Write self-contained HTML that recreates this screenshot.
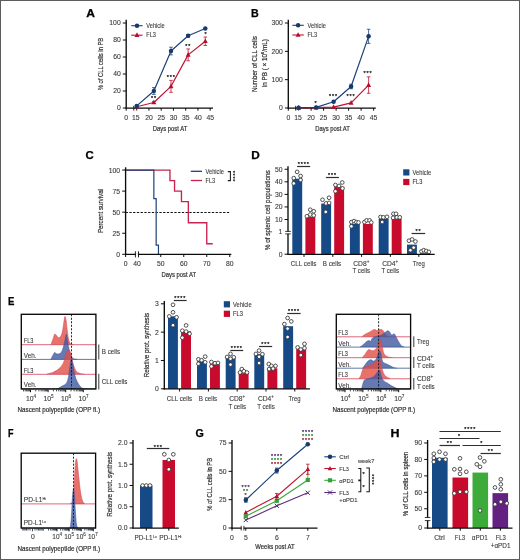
<!DOCTYPE html>
<html lang="en">
<head>
<meta charset="utf-8">
<title>Figure</title>
<style>
html,body{margin:0;padding:0;background:#fff;}
body{width:520px;height:560px;overflow:hidden;position:relative;}
svg{display:block;position:absolute;left:0;top:0;}
svg text{font-family:"Liberation Sans",sans-serif;fill:#383838;stroke:#383838;stroke-width:.1px;}
svg text.b{fill:#2e2e2e;stroke:#2e2e2e;stroke-width:.2px;}
.frame{position:absolute;left:0;top:0;width:518px;height:558px;border:1px solid #5c5c5c;pointer-events:none;}
</style>
</head>
<body>
<svg width="520" height="560" viewBox="0 0 520 560">
<rect width="520" height="560" fill="#fff"/>
<g>
<text x="86.3" y="16.5" font-size="10.3" font-weight="bold" style="fill:#000;stroke:#000;stroke-width:.25px" textLength="8.7" lengthAdjust="spacingAndGlyphs">A</text>
<text transform="translate(102.8 64) rotate(-90)" font-size="7.6" text-anchor="middle" textLength="52.5" lengthAdjust="spacingAndGlyphs" class="b">% of CLL cells in PB</text>
<line x1="126.2" y1="19.8" x2="126.2" y2="108.6" stroke="#0c0c0c" stroke-width="1.35"/>
<line x1="125.6" y1="108.15" x2="213" y2="108.15" stroke="#0c0c0c" stroke-width="1.25"/>
<line x1="122.8" y1="108" x2="126.2" y2="108" stroke="#0c0c0c" stroke-width="1"/>
<text x="120.7" y="110.45" font-size="6.8" text-anchor="end">0</text>
<line x1="122.8" y1="91" x2="126.2" y2="91" stroke="#0c0c0c" stroke-width="1"/>
<text x="120.7" y="93.45" font-size="6.8" text-anchor="end">20</text>
<line x1="122.8" y1="74" x2="126.2" y2="74" stroke="#0c0c0c" stroke-width="1"/>
<text x="120.7" y="76.45" font-size="6.8" text-anchor="end">40</text>
<line x1="122.8" y1="57" x2="126.2" y2="57" stroke="#0c0c0c" stroke-width="1"/>
<text x="120.7" y="59.45" font-size="6.8" text-anchor="end">60</text>
<line x1="122.8" y1="40" x2="126.2" y2="40" stroke="#0c0c0c" stroke-width="1"/>
<text x="120.7" y="42.45" font-size="6.8" text-anchor="end">80</text>
<line x1="122.8" y1="23" x2="126.2" y2="23" stroke="#0c0c0c" stroke-width="1"/>
<text x="120.7" y="25.45" font-size="6.8" text-anchor="end">100</text>
<line x1="126.2" y1="108" x2="126.2" y2="110.7" stroke="#0c0c0c" stroke-width="1"/>
<text x="126.2" y="119.5" font-size="6.8" text-anchor="middle">0</text>
<line x1="148.95" y1="108" x2="148.95" y2="110.7" stroke="#0c0c0c" stroke-width="1"/>
<text x="148.95" y="119.5" font-size="6.8" text-anchor="middle">20</text>
<line x1="161.2" y1="108" x2="161.2" y2="110.7" stroke="#0c0c0c" stroke-width="1"/>
<text x="161.2" y="119.5" font-size="6.8" text-anchor="middle">25</text>
<line x1="173.45" y1="108" x2="173.45" y2="110.7" stroke="#0c0c0c" stroke-width="1"/>
<text x="173.45" y="119.5" font-size="6.8" text-anchor="middle">30</text>
<line x1="185.7" y1="108" x2="185.7" y2="110.7" stroke="#0c0c0c" stroke-width="1"/>
<text x="185.7" y="119.5" font-size="6.8" text-anchor="middle">35</text>
<line x1="197.95" y1="108" x2="197.95" y2="110.7" stroke="#0c0c0c" stroke-width="1"/>
<text x="197.95" y="119.5" font-size="6.8" text-anchor="middle">40</text>
<line x1="210.2" y1="108" x2="210.2" y2="110.7" stroke="#0c0c0c" stroke-width="1"/>
<text x="210.2" y="119.5" font-size="6.8" text-anchor="middle">45</text>
<line x1="133.8" y1="105.8" x2="133.8" y2="110.6" stroke="#0c0c0c" stroke-width="0.9"/>
<line x1="136.7" y1="105.8" x2="136.7" y2="110.6" stroke="#0c0c0c" stroke-width="0.9"/>
<text x="135.8" y="119.5" font-size="6.8" text-anchor="middle">15</text>
<text x="170" y="131.2" font-size="7.5" text-anchor="middle" textLength="34.5" lengthAdjust="spacingAndGlyphs" class="b">Days post AT</text>
<polyline points="136.7,106.72 153.85,102.47 171,86.33 188.15,54.88 205.3,41.28" fill="none" stroke="#c01231" stroke-width="1.2" stroke-linejoin="round"/>
<polygon points="136.7,103.89 134.24,108.57 139.16,108.57" fill="#b30f2d"/>
<line x1="153.85" y1="101.45" x2="153.85" y2="103.5" stroke="#c01231" stroke-width="0.8"/>
<line x1="152.05" y1="101.45" x2="155.65" y2="101.45" stroke="#c01231" stroke-width="0.8"/>
<line x1="152.05" y1="103.5" x2="155.65" y2="103.5" stroke="#c01231" stroke-width="0.8"/>
<polygon points="153.85,99.64 151.39,104.32 156.31,104.32" fill="#b30f2d"/>
<line x1="171" y1="80.38" x2="171" y2="92.28" stroke="#c01231" stroke-width="0.8"/>
<line x1="169.2" y1="80.38" x2="172.8" y2="80.38" stroke="#c01231" stroke-width="0.8"/>
<line x1="169.2" y1="92.28" x2="172.8" y2="92.28" stroke="#c01231" stroke-width="0.8"/>
<polygon points="171,83.49 168.54,88.17 173.46,88.17" fill="#b30f2d"/>
<line x1="188.15" y1="48.93" x2="188.15" y2="60.83" stroke="#c01231" stroke-width="0.8"/>
<line x1="186.35" y1="48.93" x2="189.95" y2="48.93" stroke="#c01231" stroke-width="0.8"/>
<line x1="186.35" y1="60.83" x2="189.95" y2="60.83" stroke="#c01231" stroke-width="0.8"/>
<polygon points="188.15,52.04 185.69,56.72 190.61,56.72" fill="#b30f2d"/>
<line x1="205.3" y1="37.03" x2="205.3" y2="45.52" stroke="#c01231" stroke-width="0.8"/>
<line x1="203.5" y1="37.03" x2="207.1" y2="37.03" stroke="#c01231" stroke-width="0.8"/>
<line x1="203.5" y1="45.52" x2="207.1" y2="45.52" stroke="#c01231" stroke-width="0.8"/>
<polygon points="205.3,38.44 202.84,43.12 207.76,43.12" fill="#b30f2d"/>
<polyline points="136.7,105.88 153.85,91 171,51.05 188.15,35.75 205.3,28.53" fill="none" stroke="#1b4178" stroke-width="1.2" stroke-linejoin="round"/>
<circle cx="136.7" cy="105.88" r="2.25" fill="#173a6c"/>
<line x1="153.85" y1="87.6" x2="153.85" y2="94.4" stroke="#1b4178" stroke-width="0.8"/>
<line x1="152.05" y1="87.6" x2="155.65" y2="87.6" stroke="#1b4178" stroke-width="0.8"/>
<line x1="152.05" y1="94.4" x2="155.65" y2="94.4" stroke="#1b4178" stroke-width="0.8"/>
<circle cx="153.85" cy="91" r="2.25" fill="#173a6c"/>
<line x1="171" y1="47.23" x2="171" y2="54.88" stroke="#1b4178" stroke-width="0.8"/>
<line x1="169.2" y1="47.23" x2="172.8" y2="47.23" stroke="#1b4178" stroke-width="0.8"/>
<line x1="169.2" y1="54.88" x2="172.8" y2="54.88" stroke="#1b4178" stroke-width="0.8"/>
<circle cx="171" cy="51.05" r="2.25" fill="#173a6c"/>
<line x1="188.15" y1="34.48" x2="188.15" y2="37.03" stroke="#1b4178" stroke-width="0.8"/>
<line x1="186.35" y1="34.48" x2="189.95" y2="34.48" stroke="#1b4178" stroke-width="0.8"/>
<line x1="186.35" y1="37.03" x2="189.95" y2="37.03" stroke="#1b4178" stroke-width="0.8"/>
<circle cx="188.15" cy="35.75" r="2.25" fill="#173a6c"/>
<circle cx="205.3" cy="28.53" r="2.25" fill="#173a6c"/>
<line x1="131.2" y1="25.7" x2="142.6" y2="25.7" stroke="#1b4178" stroke-width="1.1"/>
<circle cx="137" cy="25.7" r="2.25" fill="#173a6c"/>
<text x="146.3" y="27.9" font-size="6.5" textLength="18.3" lengthAdjust="spacingAndGlyphs">Vehicle</text>
<line x1="131.2" y1="35.2" x2="142.6" y2="35.2" stroke="#c01231" stroke-width="1.1"/>
<polygon points="137,32.37 134.54,37.05 139.46,37.05" fill="#b30f2d"/>
<text x="146.3" y="37.4" font-size="6.5" textLength="9.6" lengthAdjust="spacingAndGlyphs">FL3</text>
<text x="153.9" y="100.4" font-size="5.4" letter-spacing="0.9" text-anchor="middle" style="fill:#2a2a2a;stroke:#2a2a2a;stroke-width:.25px">**</text>
<text x="171.3" y="79.2" font-size="5.4" letter-spacing="0.9" text-anchor="middle" style="fill:#2a2a2a;stroke:#2a2a2a;stroke-width:.25px">***</text>
<text x="188.3" y="48.4" font-size="5.4" letter-spacing="0.9" text-anchor="middle" style="fill:#2a2a2a;stroke:#2a2a2a;stroke-width:.25px">**</text>
<text x="205.9" y="35.5" font-size="5.4" letter-spacing="0.9" text-anchor="middle" style="fill:#2a2a2a;stroke:#2a2a2a;stroke-width:.25px">*</text>
<text x="251.1" y="16.5" font-size="10.3" font-weight="bold" style="fill:#000;stroke:#000;stroke-width:.25px" textLength="7.7" lengthAdjust="spacingAndGlyphs">B</text>
<text transform="translate(256.6 64.1) rotate(-90)" font-size="7.6" text-anchor="middle" textLength="56" lengthAdjust="spacingAndGlyphs" class="b">Number of CLL cells</text>
<text transform="translate(266.8 63.2) rotate(-90)" font-size="7.6" text-anchor="middle" textLength="48" lengthAdjust="spacingAndGlyphs" class="b">in PB ( × 10<tspan font-size="4.4" dy="-2.5">6</tspan><tspan dy="2.5">/mL)</tspan></text>
<line x1="288.3" y1="19.8" x2="288.3" y2="108.6" stroke="#0c0c0c" stroke-width="1.35"/>
<line x1="287.7" y1="108.15" x2="375.8" y2="108.15" stroke="#0c0c0c" stroke-width="1.25"/>
<line x1="284.9" y1="108" x2="288.3" y2="108" stroke="#0c0c0c" stroke-width="1"/>
<text x="282.8" y="110.45" font-size="6.8" text-anchor="end">0</text>
<line x1="284.9" y1="79.67" x2="288.3" y2="79.67" stroke="#0c0c0c" stroke-width="1"/>
<text x="282.8" y="82.12" font-size="6.8" text-anchor="end">100</text>
<line x1="284.9" y1="51.34" x2="288.3" y2="51.34" stroke="#0c0c0c" stroke-width="1"/>
<text x="282.8" y="53.79" font-size="6.8" text-anchor="end">200</text>
<line x1="284.9" y1="23.01" x2="288.3" y2="23.01" stroke="#0c0c0c" stroke-width="1"/>
<text x="282.8" y="25.46" font-size="6.8" text-anchor="end">300</text>
<line x1="288.3" y1="108" x2="288.3" y2="110.7" stroke="#0c0c0c" stroke-width="1"/>
<text x="288.3" y="119.5" font-size="6.8" text-anchor="middle">0</text>
<line x1="311.1" y1="108" x2="311.1" y2="110.7" stroke="#0c0c0c" stroke-width="1"/>
<text x="311.1" y="119.5" font-size="6.8" text-anchor="middle">20</text>
<line x1="323.6" y1="108" x2="323.6" y2="110.7" stroke="#0c0c0c" stroke-width="1"/>
<text x="323.6" y="119.5" font-size="6.8" text-anchor="middle">25</text>
<line x1="336.1" y1="108" x2="336.1" y2="110.7" stroke="#0c0c0c" stroke-width="1"/>
<text x="336.1" y="119.5" font-size="6.8" text-anchor="middle">30</text>
<line x1="348.6" y1="108" x2="348.6" y2="110.7" stroke="#0c0c0c" stroke-width="1"/>
<text x="348.6" y="119.5" font-size="6.8" text-anchor="middle">35</text>
<line x1="361.1" y1="108" x2="361.1" y2="110.7" stroke="#0c0c0c" stroke-width="1"/>
<text x="361.1" y="119.5" font-size="6.8" text-anchor="middle">40</text>
<line x1="373.6" y1="108" x2="373.6" y2="110.7" stroke="#0c0c0c" stroke-width="1"/>
<text x="373.6" y="119.5" font-size="6.8" text-anchor="middle">45</text>
<line x1="295.7" y1="105.8" x2="295.7" y2="110.6" stroke="#0c0c0c" stroke-width="0.9"/>
<line x1="298.6" y1="105.8" x2="298.6" y2="110.6" stroke="#0c0c0c" stroke-width="0.9"/>
<text x="298" y="119.5" font-size="6.8" text-anchor="middle">15</text>
<text x="332.5" y="131.2" font-size="7.5" text-anchor="middle" textLength="34.5" lengthAdjust="spacingAndGlyphs" class="b">Days post AT</text>
<polyline points="298.6,107.86 316.1,107.72 333.6,107.15 351.1,102.9 368.6,85.05" fill="none" stroke="#c01231" stroke-width="1.2" stroke-linejoin="round"/>
<polygon points="298.6,105.02 296.14,109.71 301.06,109.71" fill="#b30f2d"/>
<polygon points="316.1,104.88 313.64,109.56 318.56,109.56" fill="#b30f2d"/>
<polygon points="333.6,104.32 331.14,109 336.06,109" fill="#b30f2d"/>
<polygon points="351.1,100.07 348.64,104.75 353.56,104.75" fill="#b30f2d"/>
<line x1="368.6" y1="76.84" x2="368.6" y2="93.27" stroke="#c01231" stroke-width="0.8"/>
<line x1="366.8" y1="76.84" x2="370.4" y2="76.84" stroke="#c01231" stroke-width="0.8"/>
<line x1="366.8" y1="93.27" x2="370.4" y2="93.27" stroke="#c01231" stroke-width="0.8"/>
<polygon points="368.6,82.22 366.14,86.9 371.06,86.9" fill="#b30f2d"/>
<polyline points="298.6,107.72 316.1,107.43 333.6,101.77 351.1,86.47 368.6,36.33" fill="none" stroke="#1b4178" stroke-width="1.2" stroke-linejoin="round"/>
<circle cx="298.6" cy="107.72" r="2.25" fill="#173a6c"/>
<circle cx="316.1" cy="107.43" r="2.25" fill="#173a6c"/>
<circle cx="333.6" cy="101.77" r="2.25" fill="#173a6c"/>
<line x1="351.1" y1="84.2" x2="351.1" y2="88.74" stroke="#1b4178" stroke-width="0.8"/>
<line x1="349.3" y1="84.2" x2="352.9" y2="84.2" stroke="#1b4178" stroke-width="0.8"/>
<line x1="349.3" y1="88.74" x2="352.9" y2="88.74" stroke="#1b4178" stroke-width="0.8"/>
<circle cx="351.1" cy="86.47" r="2.25" fill="#173a6c"/>
<line x1="368.6" y1="29.24" x2="368.6" y2="43.41" stroke="#1b4178" stroke-width="0.8"/>
<line x1="366.8" y1="29.24" x2="370.4" y2="29.24" stroke="#1b4178" stroke-width="0.8"/>
<line x1="366.8" y1="43.41" x2="370.4" y2="43.41" stroke="#1b4178" stroke-width="0.8"/>
<circle cx="368.6" cy="36.33" r="2.25" fill="#173a6c"/>
<line x1="292.4" y1="25.3" x2="303.8" y2="25.3" stroke="#1b4178" stroke-width="1.1"/>
<circle cx="298.1" cy="25.3" r="2.25" fill="#173a6c"/>
<text x="307.5" y="27.5" font-size="6.5" textLength="18.3" lengthAdjust="spacingAndGlyphs">Vehicle</text>
<line x1="292.4" y1="35" x2="303.8" y2="35" stroke="#c01231" stroke-width="1.1"/>
<polygon points="298.1,32.17 295.64,36.85 300.56,36.85" fill="#b30f2d"/>
<text x="307.5" y="37.2" font-size="6.5" textLength="9.6" lengthAdjust="spacingAndGlyphs">FL3</text>
<text x="316.1" y="104.7" font-size="5.4" letter-spacing="0.9" text-anchor="middle" style="fill:#2a2a2a;stroke:#2a2a2a;stroke-width:.25px">*</text>
<text x="333.6" y="98.2" font-size="5.4" letter-spacing="0.9" text-anchor="middle" style="fill:#2a2a2a;stroke:#2a2a2a;stroke-width:.25px">***</text>
<text x="350.9" y="98.2" font-size="5.4" letter-spacing="0.9" text-anchor="middle" style="fill:#2a2a2a;stroke:#2a2a2a;stroke-width:.25px">***</text>
<text x="368.1" y="75.4" font-size="5.4" letter-spacing="0.9" text-anchor="middle" style="fill:#2a2a2a;stroke:#2a2a2a;stroke-width:.25px">***</text>
<text x="85.5" y="158.5" font-size="10.3" font-weight="bold" style="fill:#000;stroke:#000;stroke-width:.25px" textLength="8.2" lengthAdjust="spacingAndGlyphs">C</text>
<text transform="translate(103.3 211) rotate(-90)" font-size="7.6" text-anchor="middle" textLength="44" lengthAdjust="spacingAndGlyphs" class="b">Percent survival</text>
<line x1="125.6" y1="212.5" x2="229.6" y2="212.5" stroke="#111" stroke-width="1" stroke-dasharray="2.3 1.45"/>
<polyline points="125.6,170.05 169.95,170.05 169.95,180.58 174.55,180.58 174.55,191.11 181.45,191.11 181.45,201.64 188.35,201.64 188.35,222.71 206.75,222.71 206.75,243.77 212.73,243.77" fill="none" stroke="#c8234c" stroke-width="1.35"/>
<polyline points="125.6,170.05 153.85,170.05 153.85,198.69 156.15,198.69 156.15,245.03 158.45,245.03 158.45,254.3" fill="none" stroke="#1f4276" stroke-width="1.2"/>
<line x1="125.6" y1="167.3" x2="125.6" y2="254.9" stroke="#0c0c0c" stroke-width="1.35"/>
<line x1="125" y1="254.45" x2="231.3" y2="254.45" stroke="#0c0c0c" stroke-width="1.25"/>
<line x1="122.2" y1="254.3" x2="125.6" y2="254.3" stroke="#0c0c0c" stroke-width="1"/>
<text x="120.1" y="256.75" font-size="6.8" text-anchor="end">0</text>
<line x1="122.2" y1="233.24" x2="125.6" y2="233.24" stroke="#0c0c0c" stroke-width="1"/>
<text x="120.1" y="235.69" font-size="6.8" text-anchor="end">25</text>
<line x1="122.2" y1="212.18" x2="125.6" y2="212.18" stroke="#0c0c0c" stroke-width="1"/>
<text x="120.1" y="214.62" font-size="6.8" text-anchor="end">50</text>
<line x1="122.2" y1="191.11" x2="125.6" y2="191.11" stroke="#0c0c0c" stroke-width="1"/>
<text x="120.1" y="193.56" font-size="6.8" text-anchor="end">75</text>
<line x1="122.2" y1="170.05" x2="125.6" y2="170.05" stroke="#0c0c0c" stroke-width="1"/>
<text x="120.1" y="172.5" font-size="6.8" text-anchor="end">100</text>
<line x1="125.6" y1="254.3" x2="125.6" y2="257" stroke="#0c0c0c" stroke-width="1"/>
<text x="125.6" y="265.8" font-size="6.8" text-anchor="middle">0</text>
<line x1="160.75" y1="254.3" x2="160.75" y2="257" stroke="#0c0c0c" stroke-width="1"/>
<text x="160.75" y="265.8" font-size="6.8" text-anchor="middle">50</text>
<line x1="183.75" y1="254.3" x2="183.75" y2="257" stroke="#0c0c0c" stroke-width="1"/>
<text x="183.75" y="265.8" font-size="6.8" text-anchor="middle">60</text>
<line x1="206.75" y1="254.3" x2="206.75" y2="257" stroke="#0c0c0c" stroke-width="1"/>
<text x="206.75" y="265.8" font-size="6.8" text-anchor="middle">70</text>
<line x1="229.75" y1="254.3" x2="229.75" y2="257" stroke="#0c0c0c" stroke-width="1"/>
<text x="229.75" y="265.8" font-size="6.8" text-anchor="middle">80</text>
<line x1="135.4" y1="251.3" x2="135.4" y2="257.4" stroke="#0c0c0c" stroke-width="0.9"/>
<line x1="138.5" y1="251.3" x2="138.5" y2="257.4" stroke="#0c0c0c" stroke-width="0.9"/>
<rect x="136" y="253.3" width="1.9" height="2" fill="#fff"/>
<text x="137" y="265.8" font-size="6.8" text-anchor="middle">40</text>
<text x="178.8" y="277.4" font-size="7.5" text-anchor="middle" textLength="34.5" lengthAdjust="spacingAndGlyphs" class="b">Days post AT</text>
<line x1="190.8" y1="171.3" x2="202" y2="171.3" stroke="#1f4276" stroke-width="1.3"/>
<text x="205.5" y="173.5" font-size="6.5" textLength="18.3" lengthAdjust="spacingAndGlyphs">Vehicle</text>
<line x1="190.8" y1="180.5" x2="202" y2="180.5" stroke="#c8234c" stroke-width="1.3"/>
<text x="205.5" y="182.7" font-size="6.5" textLength="9.6" lengthAdjust="spacingAndGlyphs">FL3</text>
<path d="M227.8 171.6H230.4V180.6H227.8" fill="none" stroke="#1a1a1a" stroke-width="1.05"/>
<text transform="translate(231 176.4) rotate(90)" font-size="5.4" letter-spacing="0.7" text-anchor="middle" style="fill:#2a2a2a;stroke:#2a2a2a;stroke-width:.25px">****</text>
<text x="251.3" y="158.5" font-size="10.3" font-weight="bold" style="fill:#000;stroke:#000;stroke-width:.25px" textLength="8.5" lengthAdjust="spacingAndGlyphs">D</text>
<text transform="translate(270.4 210.3) rotate(-90)" font-size="7.6" text-anchor="middle" textLength="80" lengthAdjust="spacingAndGlyphs" class="b">% of splenic cell populations</text>
<rect x="292.3" y="178.7" width="9.9" height="75.5" fill="#154a86"/>
<rect x="305.4" y="216.9" width="9.9" height="37.3" fill="#c80b2d"/>
<circle cx="297.1" cy="171.9" r="1.85" fill="#fff" stroke="#333" stroke-width="0.85"/>
<circle cx="300.6" cy="176" r="1.85" fill="#fff" stroke="#333" stroke-width="0.85"/>
<circle cx="293.75" cy="178.1" r="1.85" fill="#fff" stroke="#333" stroke-width="0.85"/>
<circle cx="300.6" cy="180" r="1.85" fill="#fff" stroke="#333" stroke-width="0.85"/>
<circle cx="293.75" cy="183.4" r="1.85" fill="#fff" stroke="#333" stroke-width="0.85"/>
<circle cx="310.25" cy="209.75" r="1.85" fill="#fff" stroke="#333" stroke-width="0.85"/>
<circle cx="313.75" cy="211.25" r="1.85" fill="#fff" stroke="#333" stroke-width="0.85"/>
<circle cx="306.9" cy="216.25" r="1.85" fill="#fff" stroke="#333" stroke-width="0.85"/>
<circle cx="310.25" cy="214.6" r="1.85" fill="#fff" stroke="#333" stroke-width="0.85"/>
<circle cx="313.75" cy="215.4" r="1.85" fill="#fff" stroke="#333" stroke-width="0.85"/>
<rect x="321.2" y="203.6" width="9.9" height="50.6" fill="#154a86"/>
<rect x="334.2" y="186.8" width="9.9" height="67.4" fill="#c80b2d"/>
<circle cx="322.5" cy="199.75" r="1.85" fill="#fff" stroke="#333" stroke-width="0.85"/>
<circle cx="329.1" cy="197.75" r="1.85" fill="#fff" stroke="#333" stroke-width="0.85"/>
<circle cx="326" cy="203.4" r="1.85" fill="#fff" stroke="#333" stroke-width="0.85"/>
<circle cx="329.1" cy="202.9" r="1.85" fill="#fff" stroke="#333" stroke-width="0.85"/>
<circle cx="325.75" cy="211.9" r="1.85" fill="#fff" stroke="#333" stroke-width="0.85"/>
<circle cx="342.25" cy="182.5" r="1.85" fill="#fff" stroke="#333" stroke-width="0.85"/>
<circle cx="335.4" cy="185" r="1.85" fill="#fff" stroke="#333" stroke-width="0.85"/>
<circle cx="339" cy="185.9" r="1.85" fill="#fff" stroke="#333" stroke-width="0.85"/>
<circle cx="342.5" cy="188.4" r="1.85" fill="#fff" stroke="#333" stroke-width="0.85"/>
<circle cx="335.4" cy="191.25" r="1.85" fill="#fff" stroke="#333" stroke-width="0.85"/>
<rect x="349.9" y="224" width="9.9" height="30.2" fill="#154a86"/>
<rect x="362.9" y="224" width="9.9" height="30.2" fill="#c80b2d"/>
<circle cx="351.4" cy="222.1" r="1.85" fill="#fff" stroke="#333" stroke-width="0.85"/>
<circle cx="354" cy="221.1" r="1.85" fill="#fff" stroke="#333" stroke-width="0.85"/>
<circle cx="356.4" cy="222.1" r="1.85" fill="#fff" stroke="#333" stroke-width="0.85"/>
<circle cx="358.5" cy="222.5" r="1.85" fill="#fff" stroke="#333" stroke-width="0.85"/>
<circle cx="351.4" cy="226.3" r="1.85" fill="#fff" stroke="#333" stroke-width="0.85"/>
<circle cx="364.4" cy="222.1" r="1.85" fill="#fff" stroke="#333" stroke-width="0.85"/>
<circle cx="366.6" cy="220.4" r="1.85" fill="#fff" stroke="#333" stroke-width="0.85"/>
<circle cx="369.6" cy="220.4" r="1.85" fill="#fff" stroke="#333" stroke-width="0.85"/>
<circle cx="371.3" cy="222.5" r="1.85" fill="#fff" stroke="#333" stroke-width="0.85"/>
<rect x="378.7" y="219" width="9.9" height="35.2" fill="#154a86"/>
<rect x="391.7" y="219" width="9.9" height="35.2" fill="#c80b2d"/>
<circle cx="380.5" cy="217" r="1.85" fill="#fff" stroke="#333" stroke-width="0.85"/>
<circle cx="383.4" cy="217.3" r="1.85" fill="#fff" stroke="#333" stroke-width="0.85"/>
<circle cx="387" cy="216.8" r="1.85" fill="#fff" stroke="#333" stroke-width="0.85"/>
<circle cx="382.2" cy="222" r="1.85" fill="#fff" stroke="#333" stroke-width="0.85"/>
<circle cx="393.4" cy="213.8" r="1.85" fill="#fff" stroke="#333" stroke-width="0.85"/>
<circle cx="396" cy="213.8" r="1.85" fill="#fff" stroke="#333" stroke-width="0.85"/>
<circle cx="393.1" cy="217.8" r="1.85" fill="#fff" stroke="#333" stroke-width="0.85"/>
<circle cx="396.9" cy="217.3" r="1.85" fill="#fff" stroke="#333" stroke-width="0.85"/>
<circle cx="399.8" cy="217.3" r="1.85" fill="#fff" stroke="#333" stroke-width="0.85"/>
<rect x="407" y="244.6" width="9.9" height="9.6" fill="#154a86"/>
<rect x="420" y="253.2" width="9.9" height="1" fill="#c80b2d"/>
<circle cx="409" cy="240.7" r="1.85" fill="#fff" stroke="#333" stroke-width="0.85"/>
<circle cx="412.1" cy="239.4" r="1.85" fill="#fff" stroke="#333" stroke-width="0.85"/>
<circle cx="415.4" cy="241.5" r="1.85" fill="#fff" stroke="#333" stroke-width="0.85"/>
<circle cx="410.4" cy="250.2" r="1.85" fill="#fff" stroke="#333" stroke-width="0.85"/>
<circle cx="413.7" cy="247.6" r="1.85" fill="#fff" stroke="#333" stroke-width="0.85"/>
<circle cx="421.5" cy="251.4" r="1.85" fill="#fff" stroke="#333" stroke-width="0.85"/>
<circle cx="423.7" cy="250.2" r="1.85" fill="#fff" stroke="#333" stroke-width="0.85"/>
<circle cx="426.3" cy="251" r="1.85" fill="#fff" stroke="#333" stroke-width="0.85"/>
<circle cx="428.9" cy="251.9" r="1.85" fill="#fff" stroke="#333" stroke-width="0.85"/>
<line x1="288" y1="166.3" x2="288" y2="254.8" stroke="#0c0c0c" stroke-width="1.35"/>
<rect x="286.5" y="231.5" width="3" height="2.3" fill="#fff"/>
<line x1="285.2" y1="231.4" x2="290.8" y2="231.4" stroke="#0c0c0c" stroke-width="0.8"/>
<line x1="285.2" y1="233.9" x2="290.8" y2="233.9" stroke="#0c0c0c" stroke-width="0.8"/>
<line x1="287.4" y1="254.35" x2="434.7" y2="254.35" stroke="#0c0c0c" stroke-width="1.25"/>
<line x1="284.6" y1="254.2" x2="288" y2="254.2" stroke="#0c0c0c" stroke-width="1"/>
<text x="282.5" y="256.65" font-size="6.8" text-anchor="end">0</text>
<line x1="284.6" y1="219.5" x2="288" y2="219.5" stroke="#0c0c0c" stroke-width="1"/>
<text x="282.5" y="221.95" font-size="6.8" text-anchor="end">10</text>
<line x1="284.6" y1="206.94" x2="288" y2="206.94" stroke="#0c0c0c" stroke-width="1"/>
<text x="282.5" y="209.39" font-size="6.8" text-anchor="end">20</text>
<line x1="284.6" y1="194.38" x2="288" y2="194.38" stroke="#0c0c0c" stroke-width="1"/>
<text x="282.5" y="196.83" font-size="6.8" text-anchor="end">30</text>
<line x1="284.6" y1="181.82" x2="288" y2="181.82" stroke="#0c0c0c" stroke-width="1"/>
<text x="282.5" y="184.27" font-size="6.8" text-anchor="end">40</text>
<line x1="284.6" y1="169.26" x2="288" y2="169.26" stroke="#0c0c0c" stroke-width="1"/>
<text x="282.5" y="171.71" font-size="6.8" text-anchor="end">50</text>
<text x="282.2" y="234.1" font-size="6.8" text-anchor="end">1</text>
<line x1="304" y1="254.2" x2="304" y2="256.9" stroke="#0c0c0c" stroke-width="1"/>
<line x1="332.8" y1="254.2" x2="332.8" y2="256.9" stroke="#0c0c0c" stroke-width="1"/>
<line x1="361.6" y1="254.2" x2="361.6" y2="256.9" stroke="#0c0c0c" stroke-width="1"/>
<line x1="390.4" y1="254.2" x2="390.4" y2="256.9" stroke="#0c0c0c" stroke-width="1"/>
<line x1="418.8" y1="254.2" x2="418.8" y2="256.9" stroke="#0c0c0c" stroke-width="1"/>
<text x="303.6" y="265.8" font-size="6.7" text-anchor="middle" textLength="25.5" lengthAdjust="spacingAndGlyphs">CLL cells</text>
<text x="332" y="265.8" font-size="6.7" text-anchor="middle" textLength="18.3" lengthAdjust="spacingAndGlyphs">B cells</text>
<text x="361.3" y="265.8" font-size="6.7" text-anchor="middle">CD8<tspan font-size="4.6" dy="-2.8">+</tspan></text>
<text x="361.3" y="273.4" font-size="6.7" text-anchor="middle" textLength="17.6" lengthAdjust="spacingAndGlyphs">T cells</text>
<text x="390.2" y="265.8" font-size="6.7" text-anchor="middle">CD4<tspan font-size="4.6" dy="-2.8">+</tspan></text>
<text x="390.2" y="273.4" font-size="6.7" text-anchor="middle" textLength="17.6" lengthAdjust="spacingAndGlyphs">T cells</text>
<text x="418.8" y="265.8" font-size="6.7" text-anchor="middle" textLength="12" lengthAdjust="spacingAndGlyphs">Treg</text>
<line x1="297.1" y1="166.5" x2="310.2" y2="166.5" stroke="#2e2e2e" stroke-width="1.2"/>
<text x="303.75" y="166.4" font-size="5.4" letter-spacing="0.9" text-anchor="middle" style="fill:#2a2a2a;stroke:#2a2a2a;stroke-width:.25px">****</text>
<line x1="325.9" y1="177.5" x2="338.9" y2="177.5" stroke="#2e2e2e" stroke-width="1.2"/>
<text x="332.5" y="177" font-size="5.4" letter-spacing="0.9" text-anchor="middle" style="fill:#2a2a2a;stroke:#2a2a2a;stroke-width:.25px">***</text>
<line x1="411.6" y1="233.5" x2="425.2" y2="233.5" stroke="#2e2e2e" stroke-width="1.2"/>
<text x="418.5" y="233.1" font-size="5.4" letter-spacing="0.9" text-anchor="middle" style="fill:#2a2a2a;stroke:#2a2a2a;stroke-width:.25px">**</text>
<rect x="403.2" y="169.3" width="6.2" height="6.2" fill="#154a86"/>
<text x="412.6" y="174.7" font-size="6.7" textLength="18.6" lengthAdjust="spacingAndGlyphs">Vehicle</text>
<rect x="403.2" y="178.9" width="6.2" height="6.2" fill="#c80b2d"/>
<text x="412.6" y="184.3" font-size="6.7" textLength="9.8" lengthAdjust="spacingAndGlyphs">FL3</text>
<text x="8" y="304.7" font-size="10.3" font-weight="bold" style="fill:#000;stroke:#000;stroke-width:.25px" textLength="6.4" lengthAdjust="spacingAndGlyphs">E</text>
<path d="M51 344.7C51 344.65 50.6 344.7 51 344.4C51.4 343.28 52.55 340.34 53.2 338.5C53.85 336.66 54.08 334.85 54.6 334.2C55.12 333.55 55.43 334.31 56.1 334.9C56.77 335.49 57.51 337.23 58.3 337.5C59.09 337.77 59.78 337.39 60.5 336.4C61.22 335.41 61.72 334.38 62.3 332C62.88 329.62 63.23 325.97 63.7 323.2C64.17 320.43 64.47 317.14 64.9 316.6C65.33 316.06 65.7 317.97 66.1 320.2C66.5 322.43 66.65 325.56 67.1 329C67.55 332.44 67.95 336.6 68.6 339.3C69.25 342 69.91 343.05 70.7 344C71.49 344.7 72.59 344.47 73 344.6C73.41 344.7 73 344.68 73 344.7Z" fill="#e04f45" fill-opacity="0.8"/>
<path d="M51 344.7C51 344.65 50.6 344.7 51 344.4C51.4 343.28 52.55 340.34 53.2 338.5C53.85 336.66 54.08 334.85 54.6 334.2C55.12 333.55 55.43 334.31 56.1 334.9C56.77 335.49 57.51 337.23 58.3 337.5C59.09 337.77 59.78 337.39 60.5 336.4C61.22 335.41 61.72 334.38 62.3 332C62.88 329.62 63.23 325.97 63.7 323.2C64.17 320.43 64.47 317.14 64.9 316.6C65.33 316.06 65.7 317.97 66.1 320.2C66.5 322.43 66.65 325.56 67.1 329C67.55 332.44 67.95 336.6 68.6 339.3C69.25 342 69.91 343.05 70.7 344C71.49 344.7 72.59 344.47 73 344.6C73.41 344.7 73 344.68 73 344.7" fill="none" stroke="#d4405a" stroke-width="0.5"/>
<line x1="21.3" y1="344.7" x2="95.9" y2="344.7" stroke="#d4405a" stroke-width="0.8"/>
<path d="M51 359.4C51 359.33 50.6 359.4 51 359C51.4 358.15 52.55 355.87 53.2 354.7C53.85 353.53 53.95 352.64 54.6 352.5C55.25 352.36 55.86 353.7 56.8 353.9C57.74 354.1 58.86 354.12 59.8 353.6C60.74 353.08 61.21 352.78 62 351C62.79 349.22 63.46 346.67 64.2 343.7C64.94 340.73 65.58 335.63 66.1 334.5C66.62 333.37 66.65 335.22 67.1 337.4C67.55 339.58 68.08 343.88 68.6 346.6C69.12 349.32 69.35 350.52 70 352.5C70.65 354.48 71.41 356.43 72.2 357.6C72.99 358.77 73.54 358.69 74.4 359C75.26 359.31 76.53 359.23 77 359.3C77.47 359.37 77 359.38 77 359.4Z" fill="#3f58a0" fill-opacity="0.8"/>
<path d="M51 359.4C51 359.33 50.6 359.4 51 359C51.4 358.15 52.55 355.87 53.2 354.7C53.85 353.53 53.95 352.64 54.6 352.5C55.25 352.36 55.86 353.7 56.8 353.9C57.74 354.1 58.86 354.12 59.8 353.6C60.74 353.08 61.21 352.78 62 351C62.79 349.22 63.46 346.67 64.2 343.7C64.94 340.73 65.58 335.63 66.1 334.5C66.62 333.37 66.65 335.22 67.1 337.4C67.55 339.58 68.08 343.88 68.6 346.6C69.12 349.32 69.35 350.52 70 352.5C70.65 354.48 71.41 356.43 72.2 357.6C72.99 358.77 73.54 358.69 74.4 359C75.26 359.31 76.53 359.23 77 359.3C77.47 359.37 77 359.38 77 359.4" fill="none" stroke="#3a5592" stroke-width="0.5"/>
<line x1="21.3" y1="359.4" x2="95.9" y2="359.4" stroke="#3a5592" stroke-width="0.8"/>
<path d="M47.3 374.3C47.3 374.25 46.24 374.3 47.3 374C48.36 373.62 51.09 373.17 53.2 372.2C55.31 371.23 57.16 370.31 59 368.6C60.84 366.89 62.07 365.6 63.4 362.7C64.73 359.8 65.46 354.73 66.4 352.5C67.34 350.27 67.95 350.48 68.6 350.3C69.25 350.12 69.48 350.4 70 351.5C70.52 352.6 70.83 353.86 71.5 356.4C72.17 358.94 72.78 362.88 73.7 365.6C74.62 368.32 75.29 370.04 76.6 371.5C77.91 372.96 79.67 373.23 81 373.7C82.33 374.17 83.46 373.99 84 374.1C84.54 374.21 84 374.26 84 374.3Z" fill="#e04f45" fill-opacity="0.8"/>
<path d="M47.3 374.3C47.3 374.25 46.24 374.3 47.3 374C48.36 373.62 51.09 373.17 53.2 372.2C55.31 371.23 57.16 370.31 59 368.6C60.84 366.89 62.07 365.6 63.4 362.7C64.73 359.8 65.46 354.73 66.4 352.5C67.34 350.27 67.95 350.48 68.6 350.3C69.25 350.12 69.48 350.4 70 351.5C70.52 352.6 70.83 353.86 71.5 356.4C72.17 358.94 72.78 362.88 73.7 365.6C74.62 368.32 75.29 370.04 76.6 371.5C77.91 372.96 79.67 373.23 81 373.7C82.33 374.17 83.46 373.99 84 374.1C84.54 374.21 84 374.26 84 374.3" fill="none" stroke="#d4405a" stroke-width="0.5"/>
<line x1="21.3" y1="374.3" x2="95.9" y2="374.3" stroke="#d4405a" stroke-width="0.8"/>
<path d="M57.6 389C57.6 388.96 56.81 389 57.6 388.8C58.39 388.28 60.42 387.11 62 386.1C63.58 385.09 65.21 385.04 66.4 383.2C67.59 381.36 67.95 379.07 68.6 375.9C69.25 372.73 69.53 368.53 70 365.6C70.47 362.67 70.75 360.12 71.2 359.6C71.65 359.08 71.92 360.29 72.5 362.7C73.08 365.11 73.66 369.83 74.4 373C75.14 376.17 75.68 378.07 76.6 380.3C77.52 382.53 78.44 383.96 79.5 385.4C80.56 386.84 81.51 387.67 82.5 388.3C83.49 388.93 84.55 388.77 85 388.9C85.45 389 85 388.98 85 389Z" fill="#3f58a0" fill-opacity="0.8"/>
<path d="M57.6 389C57.6 388.96 56.81 389 57.6 388.8C58.39 388.28 60.42 387.11 62 386.1C63.58 385.09 65.21 385.04 66.4 383.2C67.59 381.36 67.95 379.07 68.6 375.9C69.25 372.73 69.53 368.53 70 365.6C70.47 362.67 70.75 360.12 71.2 359.6C71.65 359.08 71.92 360.29 72.5 362.7C73.08 365.11 73.66 369.83 74.4 373C75.14 376.17 75.68 378.07 76.6 380.3C77.52 382.53 78.44 383.96 79.5 385.4C80.56 386.84 81.51 387.67 82.5 388.3C83.49 388.93 84.55 388.77 85 388.9C85.45 389 85 388.98 85 389" fill="none" stroke="#3a5592" stroke-width="0.5"/>
<line x1="21.3" y1="389" x2="95.9" y2="389" stroke="#3a5592" stroke-width="0.8"/>
<line x1="71.5" y1="314.3" x2="71.5" y2="389.2" stroke="#111" stroke-width="0.9" stroke-dasharray="2 1.5"/>
<rect x="21.3" y="314.3" width="74.6" height="74.6" fill="none" stroke="#0a0a0a" stroke-width="1.35"/>
<line x1="23.5" y1="389.6" x2="23.5" y2="391.4" stroke="#111" stroke-width="0.75"/>
<line x1="25.2" y1="389.6" x2="25.2" y2="391.4" stroke="#111" stroke-width="0.75"/>
<line x1="26.6" y1="389.6" x2="26.6" y2="391.4" stroke="#111" stroke-width="0.75"/>
<line x1="27.77" y1="389.6" x2="27.77" y2="391.4" stroke="#111" stroke-width="0.75"/>
<line x1="28.79" y1="389.6" x2="28.79" y2="391.4" stroke="#111" stroke-width="0.75"/>
<line x1="29.69" y1="389.6" x2="29.69" y2="391.4" stroke="#111" stroke-width="0.75"/>
<line x1="35.8" y1="389.6" x2="35.8" y2="391.4" stroke="#111" stroke-width="0.75"/>
<line x1="38.9" y1="389.6" x2="38.9" y2="391.4" stroke="#111" stroke-width="0.75"/>
<line x1="41.1" y1="389.6" x2="41.1" y2="391.4" stroke="#111" stroke-width="0.75"/>
<line x1="42.8" y1="389.6" x2="42.8" y2="391.4" stroke="#111" stroke-width="0.75"/>
<line x1="44.2" y1="389.6" x2="44.2" y2="391.4" stroke="#111" stroke-width="0.75"/>
<line x1="45.37" y1="389.6" x2="45.37" y2="391.4" stroke="#111" stroke-width="0.75"/>
<line x1="46.39" y1="389.6" x2="46.39" y2="391.4" stroke="#111" stroke-width="0.75"/>
<line x1="47.29" y1="389.6" x2="47.29" y2="391.4" stroke="#111" stroke-width="0.75"/>
<line x1="53.4" y1="389.6" x2="53.4" y2="391.4" stroke="#111" stroke-width="0.75"/>
<line x1="56.5" y1="389.6" x2="56.5" y2="391.4" stroke="#111" stroke-width="0.75"/>
<line x1="58.7" y1="389.6" x2="58.7" y2="391.4" stroke="#111" stroke-width="0.75"/>
<line x1="60.4" y1="389.6" x2="60.4" y2="391.4" stroke="#111" stroke-width="0.75"/>
<line x1="61.8" y1="389.6" x2="61.8" y2="391.4" stroke="#111" stroke-width="0.75"/>
<line x1="62.97" y1="389.6" x2="62.97" y2="391.4" stroke="#111" stroke-width="0.75"/>
<line x1="63.99" y1="389.6" x2="63.99" y2="391.4" stroke="#111" stroke-width="0.75"/>
<line x1="64.89" y1="389.6" x2="64.89" y2="391.4" stroke="#111" stroke-width="0.75"/>
<line x1="71" y1="389.6" x2="71" y2="391.4" stroke="#111" stroke-width="0.75"/>
<line x1="74.1" y1="389.6" x2="74.1" y2="391.4" stroke="#111" stroke-width="0.75"/>
<line x1="76.3" y1="389.6" x2="76.3" y2="391.4" stroke="#111" stroke-width="0.75"/>
<line x1="78" y1="389.6" x2="78" y2="391.4" stroke="#111" stroke-width="0.75"/>
<line x1="79.4" y1="389.6" x2="79.4" y2="391.4" stroke="#111" stroke-width="0.75"/>
<line x1="80.57" y1="389.6" x2="80.57" y2="391.4" stroke="#111" stroke-width="0.75"/>
<line x1="81.59" y1="389.6" x2="81.59" y2="391.4" stroke="#111" stroke-width="0.75"/>
<line x1="82.49" y1="389.6" x2="82.49" y2="391.4" stroke="#111" stroke-width="0.75"/>
<line x1="30.5" y1="389.6" x2="30.5" y2="392.2" stroke="#111" stroke-width="1"/>
<line x1="48.1" y1="389.6" x2="48.1" y2="392.2" stroke="#111" stroke-width="1"/>
<line x1="65.7" y1="389.6" x2="65.7" y2="392.2" stroke="#111" stroke-width="1"/>
<line x1="83.3" y1="389.6" x2="83.3" y2="392.2" stroke="#111" stroke-width="1"/>
<text x="31" y="400.7" font-size="6.8" text-anchor="middle">10<tspan font-size="4.6" dy="-2.9">4</tspan></text>
<text x="48.5" y="400.7" font-size="6.8" text-anchor="middle">10<tspan font-size="4.6" dy="-2.9">5</tspan></text>
<text x="66" y="400.7" font-size="6.8" text-anchor="middle">10<tspan font-size="4.6" dy="-2.9">6</tspan></text>
<text x="83.5" y="400.7" font-size="6.8" text-anchor="middle">10<tspan font-size="4.6" dy="-2.9">7</tspan></text>
<text x="58.8" y="411.6" font-size="7.5" text-anchor="middle" textLength="82.5" lengthAdjust="spacingAndGlyphs" class="b">Nascent polypeptide (OPP fl.)</text>
<text x="23.8" y="343.3" font-size="6.8" textLength="9.6" lengthAdjust="spacingAndGlyphs">FL3</text>
<text x="23.8" y="357.9" font-size="6.8" textLength="12.6" lengthAdjust="spacingAndGlyphs">Veh.</text>
<text x="23.8" y="372.9" font-size="6.8" textLength="9.6" lengthAdjust="spacingAndGlyphs">FL3</text>
<text x="23.8" y="387.2" font-size="6.8" textLength="12.6" lengthAdjust="spacingAndGlyphs">Veh.</text>
<line x1="98.8" y1="344.5" x2="98.8" y2="359.5" stroke="#222" stroke-width="0.9"/>
<line x1="98.8" y1="373.8" x2="98.8" y2="389.5" stroke="#222" stroke-width="0.9"/>
<text x="101.8" y="353.5" font-size="6.7" textLength="18.3" lengthAdjust="spacingAndGlyphs">B cells</text>
<text x="101.8" y="383.5" font-size="6.7" textLength="25.5" lengthAdjust="spacingAndGlyphs">CLL cells</text>
<text transform="translate(149.3 345) rotate(-90)" font-size="7.6" text-anchor="middle" textLength="64.5" lengthAdjust="spacingAndGlyphs" class="b">Relative prot. synthesis</text>
<rect x="168" y="316.3" width="9.9" height="72.5" fill="#154a86"/>
<rect x="181.1" y="331.4" width="9.9" height="57.4" fill="#c80b2d"/>
<circle cx="173" cy="304.8" r="1.85" fill="#fff" stroke="#333" stroke-width="0.85"/>
<circle cx="173" cy="312.3" r="1.85" fill="#fff" stroke="#333" stroke-width="0.85"/>
<circle cx="169.3" cy="316.4" r="1.85" fill="#fff" stroke="#333" stroke-width="0.85"/>
<circle cx="176.6" cy="317.3" r="1.85" fill="#fff" stroke="#333" stroke-width="0.85"/>
<circle cx="173" cy="325.2" r="1.85" fill="#fff" stroke="#333" stroke-width="0.85"/>
<circle cx="186.1" cy="325.4" r="1.85" fill="#fff" stroke="#333" stroke-width="0.85"/>
<circle cx="182.3" cy="330.7" r="1.85" fill="#fff" stroke="#333" stroke-width="0.85"/>
<circle cx="186.1" cy="331.6" r="1.85" fill="#fff" stroke="#333" stroke-width="0.85"/>
<circle cx="189.6" cy="333.75" r="1.85" fill="#fff" stroke="#333" stroke-width="0.85"/>
<circle cx="182.3" cy="337.7" r="1.85" fill="#fff" stroke="#333" stroke-width="0.85"/>
<rect x="197" y="361.3" width="9.9" height="27.5" fill="#154a86"/>
<rect x="210" y="364.2" width="9.9" height="24.6" fill="#c80b2d"/>
<circle cx="205.2" cy="356.6" r="1.85" fill="#fff" stroke="#333" stroke-width="0.85"/>
<circle cx="198.4" cy="359.3" r="1.85" fill="#fff" stroke="#333" stroke-width="0.85"/>
<circle cx="201.6" cy="360.2" r="1.85" fill="#fff" stroke="#333" stroke-width="0.85"/>
<circle cx="198.4" cy="363.75" r="1.85" fill="#fff" stroke="#333" stroke-width="0.85"/>
<circle cx="205.2" cy="362.3" r="1.85" fill="#fff" stroke="#333" stroke-width="0.85"/>
<circle cx="211.4" cy="362" r="1.85" fill="#fff" stroke="#333" stroke-width="0.85"/>
<circle cx="215" cy="363.2" r="1.85" fill="#fff" stroke="#333" stroke-width="0.85"/>
<circle cx="218" cy="362.9" r="1.85" fill="#fff" stroke="#333" stroke-width="0.85"/>
<circle cx="211.4" cy="366.4" r="1.85" fill="#fff" stroke="#333" stroke-width="0.85"/>
<rect x="225.7" y="357.3" width="9.9" height="31.5" fill="#154a86"/>
<rect x="238.7" y="373.2" width="9.9" height="15.6" fill="#c80b2d"/>
<circle cx="230.5" cy="353.9" r="1.85" fill="#fff" stroke="#333" stroke-width="0.85"/>
<circle cx="227.1" cy="357" r="1.85" fill="#fff" stroke="#333" stroke-width="0.85"/>
<circle cx="233.75" cy="357.3" r="1.85" fill="#fff" stroke="#333" stroke-width="0.85"/>
<circle cx="230.5" cy="358.75" r="1.85" fill="#fff" stroke="#333" stroke-width="0.85"/>
<circle cx="230.5" cy="364.6" r="1.85" fill="#fff" stroke="#333" stroke-width="0.85"/>
<circle cx="241.8" cy="369.1" r="1.85" fill="#fff" stroke="#333" stroke-width="0.85"/>
<circle cx="240" cy="372.5" r="1.85" fill="#fff" stroke="#333" stroke-width="0.85"/>
<circle cx="243.9" cy="371.25" r="1.85" fill="#fff" stroke="#333" stroke-width="0.85"/>
<circle cx="247" cy="372.5" r="1.85" fill="#fff" stroke="#333" stroke-width="0.85"/>
<rect x="254.3" y="354.2" width="9.9" height="34.6" fill="#154a86"/>
<rect x="267.4" y="368.3" width="9.9" height="20.5" fill="#c80b2d"/>
<circle cx="259.1" cy="350.6" r="1.85" fill="#fff" stroke="#333" stroke-width="0.85"/>
<circle cx="255.9" cy="353.9" r="1.85" fill="#fff" stroke="#333" stroke-width="0.85"/>
<circle cx="262.4" cy="354.2" r="1.85" fill="#fff" stroke="#333" stroke-width="0.85"/>
<circle cx="259.1" cy="356.75" r="1.85" fill="#fff" stroke="#333" stroke-width="0.85"/>
<circle cx="259.1" cy="363" r="1.85" fill="#fff" stroke="#333" stroke-width="0.85"/>
<circle cx="268.8" cy="364" r="1.85" fill="#fff" stroke="#333" stroke-width="0.85"/>
<circle cx="271.5" cy="365.9" r="1.85" fill="#fff" stroke="#333" stroke-width="0.85"/>
<circle cx="275.5" cy="365.9" r="1.85" fill="#fff" stroke="#333" stroke-width="0.85"/>
<circle cx="269.1" cy="369.1" r="1.85" fill="#fff" stroke="#333" stroke-width="0.85"/>
<circle cx="273.1" cy="368.6" r="1.85" fill="#fff" stroke="#333" stroke-width="0.85"/>
<rect x="283.2" y="326.2" width="9.9" height="62.6" fill="#154a86"/>
<rect x="296.2" y="349.1" width="9.9" height="39.7" fill="#c80b2d"/>
<circle cx="287.6" cy="318" r="1.85" fill="#fff" stroke="#333" stroke-width="0.85"/>
<circle cx="291.3" cy="321.4" r="1.85" fill="#fff" stroke="#333" stroke-width="0.85"/>
<circle cx="284.4" cy="324.1" r="1.85" fill="#fff" stroke="#333" stroke-width="0.85"/>
<circle cx="287.6" cy="328.6" r="1.85" fill="#fff" stroke="#333" stroke-width="0.85"/>
<circle cx="287.6" cy="337" r="1.85" fill="#fff" stroke="#333" stroke-width="0.85"/>
<circle cx="304.5" cy="343.9" r="1.85" fill="#fff" stroke="#333" stroke-width="0.85"/>
<circle cx="297.6" cy="347.4" r="1.85" fill="#fff" stroke="#333" stroke-width="0.85"/>
<circle cx="304.5" cy="348.2" r="1.85" fill="#fff" stroke="#333" stroke-width="0.85"/>
<circle cx="300.8" cy="349.5" r="1.85" fill="#fff" stroke="#333" stroke-width="0.85"/>
<circle cx="300.8" cy="355.1" r="1.85" fill="#fff" stroke="#333" stroke-width="0.85"/>
<line x1="164.3" y1="301" x2="164.3" y2="389.4" stroke="#0c0c0c" stroke-width="1.35"/>
<line x1="163.7" y1="388.95" x2="310" y2="388.95" stroke="#0c0c0c" stroke-width="1.25"/>
<line x1="160.9" y1="388.8" x2="164.3" y2="388.8" stroke="#0c0c0c" stroke-width="1"/>
<text x="158.8" y="391.25" font-size="6.8" text-anchor="end">0</text>
<line x1="160.9" y1="360.47" x2="164.3" y2="360.47" stroke="#0c0c0c" stroke-width="1"/>
<text x="158.8" y="362.92" font-size="6.8" text-anchor="end">1</text>
<line x1="160.9" y1="332.14" x2="164.3" y2="332.14" stroke="#0c0c0c" stroke-width="1"/>
<text x="158.8" y="334.59" font-size="6.8" text-anchor="end">2</text>
<line x1="160.9" y1="303.81" x2="164.3" y2="303.81" stroke="#0c0c0c" stroke-width="1"/>
<text x="158.8" y="306.26" font-size="6.8" text-anchor="end">3</text>
<line x1="179.6" y1="388.8" x2="179.6" y2="391.5" stroke="#0c0c0c" stroke-width="1"/>
<line x1="208.4" y1="388.8" x2="208.4" y2="391.5" stroke="#0c0c0c" stroke-width="1"/>
<line x1="237.2" y1="388.8" x2="237.2" y2="391.5" stroke="#0c0c0c" stroke-width="1"/>
<line x1="266" y1="388.8" x2="266" y2="391.5" stroke="#0c0c0c" stroke-width="1"/>
<line x1="294.8" y1="388.8" x2="294.8" y2="391.5" stroke="#0c0c0c" stroke-width="1"/>
<text x="179.5" y="400.5" font-size="6.7" text-anchor="middle" textLength="25.5" lengthAdjust="spacingAndGlyphs">CLL cells</text>
<text x="208" y="400.5" font-size="6.7" text-anchor="middle" textLength="18.3" lengthAdjust="spacingAndGlyphs">B cells</text>
<text x="237.2" y="400.5" font-size="6.7" text-anchor="middle">CD8<tspan font-size="4.6" dy="-2.8">+</tspan></text>
<text x="237.2" y="408.6" font-size="6.7" text-anchor="middle" textLength="17.6" lengthAdjust="spacingAndGlyphs">T cells</text>
<text x="266" y="400.5" font-size="6.7" text-anchor="middle">CD4<tspan font-size="4.6" dy="-2.8">+</tspan></text>
<text x="266" y="408.6" font-size="6.7" text-anchor="middle" textLength="17.6" lengthAdjust="spacingAndGlyphs">T cells</text>
<text x="294.6" y="400.5" font-size="6.7" text-anchor="middle" textLength="12" lengthAdjust="spacingAndGlyphs">Treg</text>
<line x1="173.8" y1="300.5" x2="186.6" y2="300.5" stroke="#2e2e2e" stroke-width="1.2"/>
<text x="180.3" y="300" font-size="5.4" letter-spacing="0.9" text-anchor="middle" style="fill:#2a2a2a;stroke:#2a2a2a;stroke-width:.25px">****</text>
<line x1="230.3" y1="350.5" x2="243.2" y2="350.5" stroke="#2e2e2e" stroke-width="1.2"/>
<text x="236.85" y="350" font-size="5.4" letter-spacing="0.9" text-anchor="middle" style="fill:#2a2a2a;stroke:#2a2a2a;stroke-width:.25px">****</text>
<line x1="259.1" y1="346.5" x2="272.2" y2="346.5" stroke="#2e2e2e" stroke-width="1.2"/>
<text x="265.75" y="346.1" font-size="5.4" letter-spacing="0.9" text-anchor="middle" style="fill:#2a2a2a;stroke:#2a2a2a;stroke-width:.25px">***</text>
<line x1="287.2" y1="313.5" x2="300.6" y2="313.5" stroke="#2e2e2e" stroke-width="1.2"/>
<text x="294" y="313" font-size="5.4" letter-spacing="0.9" text-anchor="middle" style="fill:#2a2a2a;stroke:#2a2a2a;stroke-width:.25px">****</text>
<rect x="223.8" y="301.2" width="6.2" height="6.2" fill="#154a86"/>
<text x="233" y="306.6" font-size="6.7" textLength="18.6" lengthAdjust="spacingAndGlyphs">Vehicle</text>
<rect x="223.8" y="310.7" width="6.2" height="6.2" fill="#c80b2d"/>
<text x="233" y="316.1" font-size="6.7" textLength="9.8" lengthAdjust="spacingAndGlyphs">FL3</text>
<path d="M362.2 336.8C362.2 336.75 361.62 336.8 362.2 336.5C362.78 336.01 364.12 334.87 365.4 334.1C366.68 333.33 367.91 332.96 369.3 332.2C370.69 331.44 372.06 330.39 373.1 329.9C374.14 329.41 374.4 329.37 375.1 329.5C375.8 329.63 376.19 330.6 377 330.6C377.81 330.6 378.68 329.64 379.6 329.5C380.52 329.36 381.36 329.42 382.1 329.8C382.84 330.18 383 330.66 383.7 331.6C384.4 332.54 385.05 334.1 386 335C386.95 335.9 388.46 336.28 389 336.6C389.54 336.8 389 336.76 389 336.8Z" fill="#e04f45" fill-opacity="0.8"/>
<path d="M362.2 336.8C362.2 336.75 361.62 336.8 362.2 336.5C362.78 336.01 364.12 334.87 365.4 334.1C366.68 333.33 367.91 332.96 369.3 332.2C370.69 331.44 372.06 330.39 373.1 329.9C374.14 329.41 374.4 329.37 375.1 329.5C375.8 329.63 376.19 330.6 377 330.6C377.81 330.6 378.68 329.64 379.6 329.5C380.52 329.36 381.36 329.42 382.1 329.8C382.84 330.18 383 330.66 383.7 331.6C384.4 332.54 385.05 334.1 386 335C386.95 335.9 388.46 336.28 389 336.6C389.54 336.8 389 336.76 389 336.8" fill="none" stroke="#d4405a" stroke-width="0.5"/>
<line x1="336.3" y1="336.8" x2="410.6" y2="336.8" stroke="#d4405a" stroke-width="0.8"/>
<path d="M360.3 347.1C360.3 347.05 359.83 347.1 360.3 346.8C360.77 346.42 361.86 345.88 362.9 345C363.94 344.12 365.07 342.69 366.1 341.9C367.13 341.11 367.79 340.73 368.6 340.6C369.41 340.47 369.9 341.67 370.6 341.2C371.3 340.73 371.58 338.85 372.5 338C373.42 337.15 374.55 336.86 375.7 336.5C376.85 336.14 377.75 336.31 378.9 336C380.05 335.69 380.95 335.48 382.1 334.8C383.25 334.12 384.26 332.92 385.3 332.2C386.34 331.48 387.09 330.8 387.9 330.8C388.71 330.8 389.1 331.44 389.8 332.2C390.5 332.96 390.99 334.69 391.8 335C392.61 335.31 393.49 333.47 394.3 333.9C395.11 334.33 395.49 335.96 396.3 337.4C397.11 338.84 397.88 340.41 398.8 341.9C399.72 343.39 400.46 344.82 401.4 345.7C402.34 346.58 403.53 346.55 404 346.8C404.47 347.05 404 347.05 404 347.1Z" fill="#3f58a0" fill-opacity="0.8"/>
<path d="M360.3 347.1C360.3 347.05 359.83 347.1 360.3 346.8C360.77 346.42 361.86 345.88 362.9 345C363.94 344.12 365.07 342.69 366.1 341.9C367.13 341.11 367.79 340.73 368.6 340.6C369.41 340.47 369.9 341.67 370.6 341.2C371.3 340.73 371.58 338.85 372.5 338C373.42 337.15 374.55 336.86 375.7 336.5C376.85 336.14 377.75 336.31 378.9 336C380.05 335.69 380.95 335.48 382.1 334.8C383.25 334.12 384.26 332.92 385.3 332.2C386.34 331.48 387.09 330.8 387.9 330.8C388.71 330.8 389.1 331.44 389.8 332.2C390.5 332.96 390.99 334.69 391.8 335C392.61 335.31 393.49 333.47 394.3 333.9C395.11 334.33 395.49 335.96 396.3 337.4C397.11 338.84 397.88 340.41 398.8 341.9C399.72 343.39 400.46 344.82 401.4 345.7C402.34 346.58 403.53 346.55 404 346.8C404.47 347.05 404 347.05 404 347.1" fill="none" stroke="#3a5592" stroke-width="0.5"/>
<line x1="336.3" y1="347.1" x2="410.6" y2="347.1" stroke="#3a5592" stroke-width="0.8"/>
<path d="M362.2 357.7C362.2 357.65 361.73 357.7 362.2 357.4C362.67 356.86 363.86 355.89 364.8 354.7C365.74 353.51 366.59 351.72 367.4 350.8C368.21 349.88 368.49 349.6 369.3 349.6C370.11 349.6 370.98 350.69 371.9 350.8C372.82 350.91 373.48 350.88 374.4 350.2C375.32 349.52 376.19 348.57 377 347C377.81 345.43 378.32 342.83 378.9 341.5C379.48 340.17 379.73 339.53 380.2 339.6C380.67 339.67 381.03 340.1 381.5 341.9C381.97 343.7 382.22 347.3 382.8 349.6C383.38 351.9 383.66 353.37 384.7 354.7C385.74 356.03 387.29 356.5 388.6 357C389.91 357.5 391.39 357.37 392 357.5C392.61 357.63 392 357.66 392 357.7Z" fill="#e04f45" fill-opacity="0.8"/>
<path d="M362.2 357.7C362.2 357.65 361.73 357.7 362.2 357.4C362.67 356.86 363.86 355.89 364.8 354.7C365.74 353.51 366.59 351.72 367.4 350.8C368.21 349.88 368.49 349.6 369.3 349.6C370.11 349.6 370.98 350.69 371.9 350.8C372.82 350.91 373.48 350.88 374.4 350.2C375.32 349.52 376.19 348.57 377 347C377.81 345.43 378.32 342.83 378.9 341.5C379.48 340.17 379.73 339.53 380.2 339.6C380.67 339.67 381.03 340.1 381.5 341.9C381.97 343.7 382.22 347.3 382.8 349.6C383.38 351.9 383.66 353.37 384.7 354.7C385.74 356.03 387.29 356.5 388.6 357C389.91 357.5 391.39 357.37 392 357.5C392.61 357.63 392 357.66 392 357.7" fill="none" stroke="#d4405a" stroke-width="0.5"/>
<line x1="336.3" y1="357.7" x2="410.6" y2="357.7" stroke="#d4405a" stroke-width="0.8"/>
<path d="M362.9 368.2C362.9 368.15 362.45 368.2 362.9 367.9C363.35 367.2 364.37 365.63 365.4 364.3C366.43 362.97 367.56 361.31 368.6 360.5C369.64 359.69 370.26 359.69 371.2 359.8C372.14 359.91 372.88 361.32 373.8 361.1C374.72 360.88 375.45 360.15 376.3 358.6C377.15 357.05 377.91 353.9 378.5 352.5C379.09 351.1 379.19 350.69 379.6 350.8C380.01 350.91 380.35 351.48 380.8 353.1C381.25 354.72 381.63 358.13 382.1 359.8C382.57 361.47 382.46 361.59 383.4 362.4C384.34 363.21 385.68 363.49 387.3 364.3C388.92 365.11 390.78 366.23 392.4 366.9C394.02 367.57 395.6 367.77 396.3 368C397 368.2 396.3 368.16 396.3 368.2Z" fill="#3f58a0" fill-opacity="0.8"/>
<path d="M362.9 368.2C362.9 368.15 362.45 368.2 362.9 367.9C363.35 367.2 364.37 365.63 365.4 364.3C366.43 362.97 367.56 361.31 368.6 360.5C369.64 359.69 370.26 359.69 371.2 359.8C372.14 359.91 372.88 361.32 373.8 361.1C374.72 360.88 375.45 360.15 376.3 358.6C377.15 357.05 377.91 353.9 378.5 352.5C379.09 351.1 379.19 350.69 379.6 350.8C380.01 350.91 380.35 351.48 380.8 353.1C381.25 354.72 381.63 358.13 382.1 359.8C382.57 361.47 382.46 361.59 383.4 362.4C384.34 363.21 385.68 363.49 387.3 364.3C388.92 365.11 390.78 366.23 392.4 366.9C394.02 367.57 395.6 367.77 396.3 368C397 368.2 396.3 368.16 396.3 368.2" fill="none" stroke="#3a5592" stroke-width="0.5"/>
<line x1="336.3" y1="368.2" x2="410.6" y2="368.2" stroke="#3a5592" stroke-width="0.8"/>
<path d="M359 378.8C359 378.75 358.66 378.8 359 378.5C359.34 377.87 360.2 377.05 360.9 375.3C361.6 373.55 362.2 370.31 362.9 368.8C363.6 367.29 363.65 367.48 364.8 366.9C365.95 366.32 367.68 366.28 369.3 365.6C370.92 364.92 372.41 364.02 373.8 363.1C375.19 362.18 376.08 361.2 377 360.5C377.92 359.8 378.32 359.27 378.9 359.2C379.48 359.13 379.73 358.82 380.2 360.1C380.67 361.38 380.92 364.03 381.5 366.3C382.08 368.57 382.59 370.85 383.4 372.7C384.21 374.55 384.85 375.56 386 376.6C387.15 377.64 389.12 378.1 389.8 378.5C390.48 378.8 389.8 378.75 389.8 378.8Z" fill="#e04f45" fill-opacity="0.8"/>
<path d="M359 378.8C359 378.75 358.66 378.8 359 378.5C359.34 377.87 360.2 377.05 360.9 375.3C361.6 373.55 362.2 370.31 362.9 368.8C363.6 367.29 363.65 367.48 364.8 366.9C365.95 366.32 367.68 366.28 369.3 365.6C370.92 364.92 372.41 364.02 373.8 363.1C375.19 362.18 376.08 361.2 377 360.5C377.92 359.8 378.32 359.27 378.9 359.2C379.48 359.13 379.73 358.82 380.2 360.1C380.67 361.38 380.92 364.03 381.5 366.3C382.08 368.57 382.59 370.85 383.4 372.7C384.21 374.55 384.85 375.56 386 376.6C387.15 377.64 389.12 378.1 389.8 378.5C390.48 378.8 389.8 378.75 389.8 378.8" fill="none" stroke="#d4405a" stroke-width="0.5"/>
<line x1="336.3" y1="378.8" x2="410.6" y2="378.8" stroke="#d4405a" stroke-width="0.8"/>
<path d="M361.6 389.1C361.6 389.05 361.26 389.1 361.6 388.8C361.94 387.47 362.82 383.39 363.5 381.7C364.18 380.01 364.36 379.98 365.4 379.4C366.44 378.82 367.79 379 369.3 378.5C370.81 378 372.41 377.64 373.8 376.6C375.19 375.56 376.08 373.85 377 372.7C377.92 371.55 378.32 370.47 378.9 370.2C379.48 369.93 379.73 370.05 380.2 371.2C380.67 372.35 380.92 374.94 381.5 376.6C382.08 378.26 382.36 379.25 383.4 380.4C384.44 381.55 385.91 382.06 387.3 383C388.69 383.94 389.71 384.79 391.1 385.6C392.49 386.41 393.76 386.91 395 387.5C396.24 388.09 397.46 388.61 398 388.9C398.54 389.1 398 389.06 398 389.1Z" fill="#3f58a0" fill-opacity="0.8"/>
<path d="M361.6 389.1C361.6 389.05 361.26 389.1 361.6 388.8C361.94 387.47 362.82 383.39 363.5 381.7C364.18 380.01 364.36 379.98 365.4 379.4C366.44 378.82 367.79 379 369.3 378.5C370.81 378 372.41 377.64 373.8 376.6C375.19 375.56 376.08 373.85 377 372.7C377.92 371.55 378.32 370.47 378.9 370.2C379.48 369.93 379.73 370.05 380.2 371.2C380.67 372.35 380.92 374.94 381.5 376.6C382.08 378.26 382.36 379.25 383.4 380.4C384.44 381.55 385.91 382.06 387.3 383C388.69 383.94 389.71 384.79 391.1 385.6C392.49 386.41 393.76 386.91 395 387.5C396.24 388.09 397.46 388.61 398 388.9C398.54 389.1 398 389.06 398 389.1" fill="none" stroke="#3a5592" stroke-width="0.5"/>
<line x1="336.3" y1="389.1" x2="410.6" y2="389.1" stroke="#3a5592" stroke-width="0.8"/>
<line x1="378.6" y1="314.3" x2="378.6" y2="389.2" stroke="#111" stroke-width="0.9" stroke-dasharray="2 1.5"/>
<rect x="336.3" y="314.3" width="74.3" height="74.6" fill="none" stroke="#0a0a0a" stroke-width="1.35"/>
<line x1="337.88" y1="389.6" x2="337.88" y2="391.4" stroke="#111" stroke-width="0.75"/>
<line x1="339.61" y1="389.6" x2="339.61" y2="391.4" stroke="#111" stroke-width="0.75"/>
<line x1="341.03" y1="389.6" x2="341.03" y2="391.4" stroke="#111" stroke-width="0.75"/>
<line x1="342.23" y1="389.6" x2="342.23" y2="391.4" stroke="#111" stroke-width="0.75"/>
<line x1="343.27" y1="389.6" x2="343.27" y2="391.4" stroke="#111" stroke-width="0.75"/>
<line x1="344.18" y1="389.6" x2="344.18" y2="391.4" stroke="#111" stroke-width="0.75"/>
<line x1="350.39" y1="389.6" x2="350.39" y2="391.4" stroke="#111" stroke-width="0.75"/>
<line x1="353.54" y1="389.6" x2="353.54" y2="391.4" stroke="#111" stroke-width="0.75"/>
<line x1="355.78" y1="389.6" x2="355.78" y2="391.4" stroke="#111" stroke-width="0.75"/>
<line x1="357.51" y1="389.6" x2="357.51" y2="391.4" stroke="#111" stroke-width="0.75"/>
<line x1="358.93" y1="389.6" x2="358.93" y2="391.4" stroke="#111" stroke-width="0.75"/>
<line x1="360.13" y1="389.6" x2="360.13" y2="391.4" stroke="#111" stroke-width="0.75"/>
<line x1="361.17" y1="389.6" x2="361.17" y2="391.4" stroke="#111" stroke-width="0.75"/>
<line x1="362.08" y1="389.6" x2="362.08" y2="391.4" stroke="#111" stroke-width="0.75"/>
<line x1="368.29" y1="389.6" x2="368.29" y2="391.4" stroke="#111" stroke-width="0.75"/>
<line x1="371.44" y1="389.6" x2="371.44" y2="391.4" stroke="#111" stroke-width="0.75"/>
<line x1="373.68" y1="389.6" x2="373.68" y2="391.4" stroke="#111" stroke-width="0.75"/>
<line x1="375.41" y1="389.6" x2="375.41" y2="391.4" stroke="#111" stroke-width="0.75"/>
<line x1="376.83" y1="389.6" x2="376.83" y2="391.4" stroke="#111" stroke-width="0.75"/>
<line x1="378.03" y1="389.6" x2="378.03" y2="391.4" stroke="#111" stroke-width="0.75"/>
<line x1="379.07" y1="389.6" x2="379.07" y2="391.4" stroke="#111" stroke-width="0.75"/>
<line x1="379.98" y1="389.6" x2="379.98" y2="391.4" stroke="#111" stroke-width="0.75"/>
<line x1="386.19" y1="389.6" x2="386.19" y2="391.4" stroke="#111" stroke-width="0.75"/>
<line x1="389.34" y1="389.6" x2="389.34" y2="391.4" stroke="#111" stroke-width="0.75"/>
<line x1="391.58" y1="389.6" x2="391.58" y2="391.4" stroke="#111" stroke-width="0.75"/>
<line x1="393.31" y1="389.6" x2="393.31" y2="391.4" stroke="#111" stroke-width="0.75"/>
<line x1="394.73" y1="389.6" x2="394.73" y2="391.4" stroke="#111" stroke-width="0.75"/>
<line x1="395.93" y1="389.6" x2="395.93" y2="391.4" stroke="#111" stroke-width="0.75"/>
<line x1="396.97" y1="389.6" x2="396.97" y2="391.4" stroke="#111" stroke-width="0.75"/>
<line x1="397.88" y1="389.6" x2="397.88" y2="391.4" stroke="#111" stroke-width="0.75"/>
<line x1="345" y1="389.6" x2="345" y2="392.2" stroke="#111" stroke-width="1"/>
<line x1="362.9" y1="389.6" x2="362.9" y2="392.2" stroke="#111" stroke-width="1"/>
<line x1="380.8" y1="389.6" x2="380.8" y2="392.2" stroke="#111" stroke-width="1"/>
<line x1="398.7" y1="389.6" x2="398.7" y2="392.2" stroke="#111" stroke-width="1"/>
<text x="345.5" y="400.7" font-size="6.8" text-anchor="middle">10<tspan font-size="4.6" dy="-2.9">4</tspan></text>
<text x="363.4" y="400.7" font-size="6.8" text-anchor="middle">10<tspan font-size="4.6" dy="-2.9">5</tspan></text>
<text x="381.3" y="400.7" font-size="6.8" text-anchor="middle">10<tspan font-size="4.6" dy="-2.9">6</tspan></text>
<text x="399.2" y="400.7" font-size="6.8" text-anchor="middle">10<tspan font-size="4.6" dy="-2.9">7</tspan></text>
<text x="373.8" y="411.6" font-size="7.5" text-anchor="middle" textLength="82.5" lengthAdjust="spacingAndGlyphs" class="b">Nascent polypeptide (OPP fl.)</text>
<text x="338.3" y="335.2" font-size="6.8" textLength="9.6" lengthAdjust="spacingAndGlyphs">FL3</text>
<text x="338.3" y="345.5" font-size="6.8" textLength="12.6" lengthAdjust="spacingAndGlyphs">Veh.</text>
<text x="338.3" y="356.1" font-size="6.8" textLength="9.6" lengthAdjust="spacingAndGlyphs">FL3</text>
<text x="338.3" y="366.6" font-size="6.8" textLength="12.6" lengthAdjust="spacingAndGlyphs">Veh.</text>
<text x="338.3" y="377.2" font-size="6.8" textLength="9.6" lengthAdjust="spacingAndGlyphs">FL3</text>
<text x="338.3" y="387.5" font-size="6.8" textLength="12.6" lengthAdjust="spacingAndGlyphs">Veh.</text>
<line x1="413.8" y1="336.3" x2="413.8" y2="347" stroke="#222" stroke-width="0.9"/>
<line x1="413.8" y1="357" x2="413.8" y2="368" stroke="#222" stroke-width="0.9"/>
<line x1="413.8" y1="378" x2="413.8" y2="389.5" stroke="#222" stroke-width="0.9"/>
<text x="417" y="344" font-size="6.7" textLength="12" lengthAdjust="spacingAndGlyphs">Treg</text>
<text x="417" y="361" font-size="6.7">CD4<tspan font-size="4.6" dy="-2.8">+</tspan></text>
<text x="417" y="368" font-size="6.7" textLength="17.6" lengthAdjust="spacingAndGlyphs">T cells</text>
<text x="417" y="381" font-size="6.7">CD8<tspan font-size="4.6" dy="-2.8">+</tspan></text>
<text x="417" y="388.5" font-size="6.7" textLength="17.6" lengthAdjust="spacingAndGlyphs">T cells</text>
<text x="8" y="436.7" font-size="10.3" font-weight="bold" style="fill:#000;stroke:#000;stroke-width:.25px" textLength="5.5" lengthAdjust="spacingAndGlyphs">F</text>
<path d="M70 503.9C70 503.86 69.68 503.9 70 503.7C70.32 503.47 71.26 503.28 71.8 502.6C72.34 501.92 72.57 503.5 73 499.9C73.43 496.3 73.8 488.83 74.2 482.6C74.6 476.37 74.89 469.37 75.2 465.3C75.51 461.23 75.68 461.19 75.9 460C76.12 458.81 76.22 458.7 76.4 458.7C76.58 458.7 76.68 458.81 76.9 460C77.12 461.19 77.22 461.86 77.6 465.3C77.98 468.74 78.44 474.11 79 479.1C79.56 484.09 80.07 489.09 80.7 493C81.33 496.91 81.87 498.93 82.5 500.8C83.13 502.67 83.89 502.84 84.2 503.4C84.51 503.9 84.2 503.81 84.2 503.9Z" fill="#e04f45" fill-opacity="0.8"/>
<path d="M70 503.9C70 503.86 69.68 503.9 70 503.7C70.32 503.47 71.26 503.28 71.8 502.6C72.34 501.92 72.57 503.5 73 499.9C73.43 496.3 73.8 488.83 74.2 482.6C74.6 476.37 74.89 469.37 75.2 465.3C75.51 461.23 75.68 461.19 75.9 460C76.12 458.81 76.22 458.7 76.4 458.7C76.58 458.7 76.68 458.81 76.9 460C77.12 461.19 77.22 461.86 77.6 465.3C77.98 468.74 78.44 474.11 79 479.1C79.56 484.09 80.07 489.09 80.7 493C81.33 496.91 81.87 498.93 82.5 500.8C83.13 502.67 83.89 502.84 84.2 503.4C84.51 503.9 84.2 503.81 84.2 503.9" fill="none" stroke="#d4405a" stroke-width="0.5"/>
<line x1="21.2" y1="503.9" x2="95.6" y2="503.9" stroke="#d4405a" stroke-width="0.8"/>
<path d="M69.5 528.2C69.5 528.16 69.3 528.2 69.5 528C69.7 527.42 70.22 527.7 70.6 525C70.98 522.3 71.26 518.22 71.6 513C71.94 507.78 72.16 500.34 72.5 496C72.84 491.66 73.14 488.9 73.5 488.9C73.86 488.9 74.14 491.66 74.5 496C74.86 500.34 75.12 507.78 75.5 513C75.88 518.22 76.13 522.3 76.6 525C77.07 527.7 77.83 527.42 78.1 528C78.37 528.2 78.1 528.16 78.1 528.2Z" fill="#3f58a0" fill-opacity="0.8"/>
<path d="M69.5 528.2C69.5 528.16 69.3 528.2 69.5 528C69.7 527.42 70.22 527.7 70.6 525C70.98 522.3 71.26 518.22 71.6 513C71.94 507.78 72.16 500.34 72.5 496C72.84 491.66 73.14 488.9 73.5 488.9C73.86 488.9 74.14 491.66 74.5 496C74.86 500.34 75.12 507.78 75.5 513C75.88 518.22 76.13 522.3 76.6 525C77.07 527.7 77.83 527.42 78.1 528C78.37 528.2 78.1 528.16 78.1 528.2" fill="none" stroke="#3a5592" stroke-width="0.5"/>
<line x1="21.2" y1="528.2" x2="95.6" y2="528.2" stroke="#3a5592" stroke-width="0.8"/>
<line x1="73.5" y1="453.2" x2="73.5" y2="528.3" stroke="#111" stroke-width="0.9" stroke-dasharray="2 1.5"/>
<rect x="21.2" y="453.2" width="74.4" height="74.8" fill="none" stroke="#0a0a0a" stroke-width="1.35"/>
<line x1="22.8" y1="528.7" x2="22.8" y2="530.5" stroke="#111" stroke-width="0.75"/>
<line x1="24" y1="528.7" x2="24" y2="530.5" stroke="#111" stroke-width="0.75"/>
<line x1="25.2" y1="528.7" x2="25.2" y2="530.5" stroke="#111" stroke-width="0.75"/>
<line x1="26.5" y1="528.7" x2="26.5" y2="530.5" stroke="#111" stroke-width="0.75"/>
<line x1="28" y1="528.7" x2="28" y2="530.5" stroke="#111" stroke-width="0.75"/>
<line x1="30" y1="528.7" x2="30" y2="530.5" stroke="#111" stroke-width="0.75"/>
<line x1="32.5" y1="528.7" x2="32.5" y2="531.3" stroke="#111" stroke-width="0.75"/>
<line x1="35" y1="528.7" x2="35" y2="530.5" stroke="#111" stroke-width="0.75"/>
<line x1="37" y1="528.7" x2="37" y2="530.5" stroke="#111" stroke-width="0.75"/>
<line x1="38.5" y1="528.7" x2="38.5" y2="530.5" stroke="#111" stroke-width="0.75"/>
<line x1="39.8" y1="528.7" x2="39.8" y2="530.5" stroke="#111" stroke-width="0.75"/>
<line x1="41" y1="528.7" x2="41" y2="530.5" stroke="#111" stroke-width="0.75"/>
<line x1="42.2" y1="528.7" x2="42.2" y2="530.5" stroke="#111" stroke-width="0.75"/>
<line x1="43.4" y1="528.7" x2="43.4" y2="530.5" stroke="#111" stroke-width="0.75"/>
<line x1="48.54" y1="528.7" x2="48.54" y2="530.5" stroke="#111" stroke-width="0.75"/>
<line x1="50.67" y1="528.7" x2="50.67" y2="530.5" stroke="#111" stroke-width="0.75"/>
<line x1="52.18" y1="528.7" x2="52.18" y2="530.5" stroke="#111" stroke-width="0.75"/>
<line x1="53.36" y1="528.7" x2="53.36" y2="530.5" stroke="#111" stroke-width="0.75"/>
<line x1="54.32" y1="528.7" x2="54.32" y2="530.5" stroke="#111" stroke-width="0.75"/>
<line x1="55.13" y1="528.7" x2="55.13" y2="530.5" stroke="#111" stroke-width="0.75"/>
<line x1="55.83" y1="528.7" x2="55.83" y2="530.5" stroke="#111" stroke-width="0.75"/>
<line x1="56.45" y1="528.7" x2="56.45" y2="530.5" stroke="#111" stroke-width="0.75"/>
<line x1="60.64" y1="528.7" x2="60.64" y2="530.5" stroke="#111" stroke-width="0.75"/>
<line x1="62.77" y1="528.7" x2="62.77" y2="530.5" stroke="#111" stroke-width="0.75"/>
<line x1="64.28" y1="528.7" x2="64.28" y2="530.5" stroke="#111" stroke-width="0.75"/>
<line x1="65.46" y1="528.7" x2="65.46" y2="530.5" stroke="#111" stroke-width="0.75"/>
<line x1="66.42" y1="528.7" x2="66.42" y2="530.5" stroke="#111" stroke-width="0.75"/>
<line x1="67.23" y1="528.7" x2="67.23" y2="530.5" stroke="#111" stroke-width="0.75"/>
<line x1="67.93" y1="528.7" x2="67.93" y2="530.5" stroke="#111" stroke-width="0.75"/>
<line x1="68.55" y1="528.7" x2="68.55" y2="530.5" stroke="#111" stroke-width="0.75"/>
<line x1="72.74" y1="528.7" x2="72.74" y2="530.5" stroke="#111" stroke-width="0.75"/>
<line x1="74.87" y1="528.7" x2="74.87" y2="530.5" stroke="#111" stroke-width="0.75"/>
<line x1="76.38" y1="528.7" x2="76.38" y2="530.5" stroke="#111" stroke-width="0.75"/>
<line x1="77.56" y1="528.7" x2="77.56" y2="530.5" stroke="#111" stroke-width="0.75"/>
<line x1="78.52" y1="528.7" x2="78.52" y2="530.5" stroke="#111" stroke-width="0.75"/>
<line x1="79.33" y1="528.7" x2="79.33" y2="530.5" stroke="#111" stroke-width="0.75"/>
<line x1="80.03" y1="528.7" x2="80.03" y2="530.5" stroke="#111" stroke-width="0.75"/>
<line x1="80.65" y1="528.7" x2="80.65" y2="530.5" stroke="#111" stroke-width="0.75"/>
<line x1="84.84" y1="528.7" x2="84.84" y2="530.5" stroke="#111" stroke-width="0.75"/>
<line x1="86.97" y1="528.7" x2="86.97" y2="530.5" stroke="#111" stroke-width="0.75"/>
<line x1="88.48" y1="528.7" x2="88.48" y2="530.5" stroke="#111" stroke-width="0.75"/>
<line x1="89.66" y1="528.7" x2="89.66" y2="530.5" stroke="#111" stroke-width="0.75"/>
<line x1="90.62" y1="528.7" x2="90.62" y2="530.5" stroke="#111" stroke-width="0.75"/>
<line x1="91.43" y1="528.7" x2="91.43" y2="530.5" stroke="#111" stroke-width="0.75"/>
<line x1="92.13" y1="528.7" x2="92.13" y2="530.5" stroke="#111" stroke-width="0.75"/>
<line x1="92.75" y1="528.7" x2="92.75" y2="530.5" stroke="#111" stroke-width="0.75"/>
<line x1="57" y1="528.7" x2="57" y2="531.3" stroke="#111" stroke-width="1"/>
<line x1="69.1" y1="528.7" x2="69.1" y2="531.3" stroke="#111" stroke-width="1"/>
<line x1="81.2" y1="528.7" x2="81.2" y2="531.3" stroke="#111" stroke-width="1"/>
<line x1="93.3" y1="528.7" x2="93.3" y2="531.3" stroke="#111" stroke-width="1"/>
<text x="32.9" y="539.2" font-size="6.8" text-anchor="middle">0</text>
<text x="57.2" y="539.2" font-size="6.5" text-anchor="middle">10<tspan font-size="4.6" dy="-2.9">4</tspan></text>
<text x="69.1" y="539.2" font-size="6.5" text-anchor="middle">10<tspan font-size="4.6" dy="-2.9">5</tspan></text>
<text x="81" y="539.2" font-size="6.5" text-anchor="middle">10<tspan font-size="4.6" dy="-2.9">6</tspan></text>
<text x="92.9" y="539.2" font-size="6.5" text-anchor="middle">10<tspan font-size="4.6" dy="-2.9">7</tspan></text>
<text x="58.8" y="551.1" font-size="7.5" text-anchor="middle" textLength="82.5" lengthAdjust="spacingAndGlyphs" class="b">Nascent polypeptide (OPP fl.)</text>
<text x="23.8" y="502" font-size="6.7" textLength="22.3" lengthAdjust="spacingAndGlyphs">PD-L1<tspan font-size="3.8" dy="-2.2">Hi</tspan></text>
<text x="23.8" y="525.2" font-size="6.7" textLength="22.3" lengthAdjust="spacingAndGlyphs">PD-L1<tspan font-size="3.8" dy="-2.2">Lo</tspan></text>
<text transform="translate(112 484.3) rotate(-90)" font-size="7.6" text-anchor="middle" textLength="65" lengthAdjust="spacingAndGlyphs" class="b">Relative prot. synthesis</text>
<rect x="140" y="485.5" width="12.5" height="42.5" fill="#154a86"/>
<rect x="162.5" y="460" width="12.5" height="68" fill="#c80b2d"/>
<circle cx="142.6" cy="485.5" r="1.85" fill="#fff" stroke="#333" stroke-width="0.85"/>
<circle cx="146.3" cy="485.5" r="1.85" fill="#fff" stroke="#333" stroke-width="0.85"/>
<circle cx="150" cy="485.5" r="1.85" fill="#fff" stroke="#333" stroke-width="0.85"/>
<circle cx="164.3" cy="454.3" r="1.85" fill="#fff" stroke="#333" stroke-width="0.85"/>
<circle cx="173.3" cy="454.3" r="1.85" fill="#fff" stroke="#333" stroke-width="0.85"/>
<circle cx="168.8" cy="460" r="1.85" fill="#fff" stroke="#333" stroke-width="0.85"/>
<circle cx="168.8" cy="469.3" r="1.85" fill="#fff" stroke="#333" stroke-width="0.85"/>
<line x1="133" y1="440" x2="133" y2="528.6" stroke="#0c0c0c" stroke-width="1.35"/>
<line x1="132.4" y1="528.15" x2="178.8" y2="528.15" stroke="#0c0c0c" stroke-width="1.25"/>
<line x1="129.6" y1="528" x2="133" y2="528" stroke="#0c0c0c" stroke-width="1"/>
<text x="127.5" y="530.45" font-size="6.8" text-anchor="end">0.0</text>
<line x1="129.6" y1="506.75" x2="133" y2="506.75" stroke="#0c0c0c" stroke-width="1"/>
<text x="127.5" y="509.2" font-size="6.8" text-anchor="end">0.5</text>
<line x1="129.6" y1="485.5" x2="133" y2="485.5" stroke="#0c0c0c" stroke-width="1"/>
<text x="127.5" y="487.95" font-size="6.8" text-anchor="end">1.0</text>
<line x1="129.6" y1="464.25" x2="133" y2="464.25" stroke="#0c0c0c" stroke-width="1"/>
<text x="127.5" y="466.7" font-size="6.8" text-anchor="end">1.5</text>
<line x1="129.6" y1="443" x2="133" y2="443" stroke="#0c0c0c" stroke-width="1"/>
<text x="127.5" y="445.45" font-size="6.8" text-anchor="end">2.0</text>
<line x1="146.3" y1="528" x2="146.3" y2="530.7" stroke="#0c0c0c" stroke-width="1"/>
<line x1="168.8" y1="528" x2="168.8" y2="530.7" stroke="#0c0c0c" stroke-width="1"/>
<text x="145.6" y="539.7" font-size="6.7" text-anchor="middle" textLength="22.3" lengthAdjust="spacingAndGlyphs">PD-L1<tspan font-size="3.8" dy="-2.2">Lo</tspan></text>
<text x="170.3" y="539.7" font-size="6.7" text-anchor="middle" textLength="22.3" lengthAdjust="spacingAndGlyphs">PD-L1<tspan font-size="3.8" dy="-2.2">Hi</tspan></text>
<line x1="146.8" y1="448.5" x2="169.3" y2="448.5" stroke="#2e2e2e" stroke-width="1.2"/>
<text x="158.15" y="448.7" font-size="5.4" letter-spacing="0.9" text-anchor="middle" style="fill:#2a2a2a;stroke:#2a2a2a;stroke-width:.25px">***</text>
<text x="195.5" y="436.9" font-size="10.3" font-weight="bold" style="fill:#000;stroke:#000;stroke-width:.25px" textLength="8.3" lengthAdjust="spacingAndGlyphs">G</text>
<text transform="translate(211.9 484.3) rotate(-90)" font-size="7.6" text-anchor="middle" textLength="53" lengthAdjust="spacingAndGlyphs" class="b">% of CLL cells in PB</text>
<line x1="232" y1="440" x2="232" y2="528.6" stroke="#0c0c0c" stroke-width="1.35"/>
<line x1="231.4" y1="528.15" x2="317.5" y2="528.15" stroke="#0c0c0c" stroke-width="1.25"/>
<line x1="228.6" y1="528" x2="232" y2="528" stroke="#0c0c0c" stroke-width="1"/>
<text x="226.5" y="530.45" font-size="6.8" text-anchor="end">0</text>
<line x1="228.6" y1="499.67" x2="232" y2="499.67" stroke="#0c0c0c" stroke-width="1"/>
<text x="226.5" y="502.12" font-size="6.8" text-anchor="end">25</text>
<line x1="228.6" y1="471.33" x2="232" y2="471.33" stroke="#0c0c0c" stroke-width="1"/>
<text x="226.5" y="473.78" font-size="6.8" text-anchor="end">50</text>
<line x1="228.6" y1="443" x2="232" y2="443" stroke="#0c0c0c" stroke-width="1"/>
<text x="226.5" y="445.45" font-size="6.8" text-anchor="end">75</text>
<line x1="232" y1="528" x2="232" y2="530.7" stroke="#0c0c0c" stroke-width="1"/>
<text x="232" y="539.5" font-size="6.8" text-anchor="middle">0</text>
<line x1="245.8" y1="528" x2="245.8" y2="530.7" stroke="#0c0c0c" stroke-width="1"/>
<text x="245.8" y="539.5" font-size="6.8" text-anchor="middle">5</text>
<line x1="276.8" y1="528" x2="276.8" y2="530.7" stroke="#0c0c0c" stroke-width="1"/>
<text x="276.8" y="539.5" font-size="6.8" text-anchor="middle">6</text>
<line x1="307.8" y1="528" x2="307.8" y2="530.7" stroke="#0c0c0c" stroke-width="1"/>
<text x="307.8" y="539.5" font-size="6.8" text-anchor="middle">7</text>
<rect x="241.6" y="527" width="2" height="2" fill="#fff"/>
<line x1="241.2" y1="525.8" x2="241.2" y2="530.5" stroke="#0c0c0c" stroke-width="0.8"/>
<line x1="243.9" y1="525.8" x2="243.9" y2="530.5" stroke="#0c0c0c" stroke-width="0.8"/>
<text x="275" y="549.2" font-size="7.5" text-anchor="middle" textLength="39.5" lengthAdjust="spacingAndGlyphs" class="b">Weeks post AT</text>
<polyline points="245.8,520.07 276.8,505.79 307.8,492.75" fill="none" stroke="#5e2a80" stroke-width="1.1" stroke-linejoin="round"/>
<line x1="243.71" y1="517.98" x2="247.89" y2="522.16" stroke="#55237a" stroke-width="1"/>
<line x1="243.71" y1="522.16" x2="247.89" y2="517.98" stroke="#55237a" stroke-width="1"/>
<line x1="274.71" y1="503.7" x2="278.89" y2="507.88" stroke="#55237a" stroke-width="1"/>
<line x1="274.71" y1="507.88" x2="278.89" y2="503.7" stroke="#55237a" stroke-width="1"/>
<line x1="305.71" y1="490.66" x2="309.89" y2="494.84" stroke="#55237a" stroke-width="1"/>
<line x1="305.71" y1="494.84" x2="309.89" y2="490.66" stroke="#55237a" stroke-width="1"/>
<polyline points="245.8,516.21 276.8,500.8 307.8,479.95" fill="none" stroke="#3aa637" stroke-width="1.1" stroke-linejoin="round"/>
<rect x="243.73" y="514.14" width="4.14" height="4.14" fill="#36a033"/>
<rect x="274.73" y="498.73" width="4.14" height="4.14" fill="#36a033"/>
<line x1="307.8" y1="470.2" x2="307.8" y2="479.95" stroke="#3aa637" stroke-width="0.8"/>
<line x1="306" y1="470.2" x2="309.6" y2="470.2" stroke="#3aa637" stroke-width="0.8"/>
<line x1="306" y1="479.95" x2="309.6" y2="479.95" stroke="#3aa637" stroke-width="0.8"/>
<rect x="305.73" y="477.88" width="4.14" height="4.14" fill="#36a033"/>
<polyline points="245.8,512.47 276.8,496.27 307.8,469.3" fill="none" stroke="#c01231" stroke-width="1.1" stroke-linejoin="round"/>
<polygon points="245.8,509.9 243.56,514.15 248.04,514.15" fill="#b30f2d"/>
<line x1="276.8" y1="493.43" x2="276.8" y2="499.1" stroke="#c01231" stroke-width="0.8"/>
<line x1="275" y1="493.43" x2="278.6" y2="493.43" stroke="#c01231" stroke-width="0.8"/>
<line x1="275" y1="499.1" x2="278.6" y2="499.1" stroke="#c01231" stroke-width="0.8"/>
<polygon points="276.8,493.69 274.56,497.95 279.04,497.95" fill="#b30f2d"/>
<line x1="307.8" y1="464.2" x2="307.8" y2="474.39" stroke="#c01231" stroke-width="0.8"/>
<line x1="306" y1="464.2" x2="309.6" y2="464.2" stroke="#c01231" stroke-width="0.8"/>
<line x1="306" y1="474.39" x2="309.6" y2="474.39" stroke="#c01231" stroke-width="0.8"/>
<polygon points="307.8,466.72 305.56,470.98 310.04,470.98" fill="#b30f2d"/>
<polyline points="245.8,500.01 276.8,470.54 307.8,444.25" fill="none" stroke="#1b4178" stroke-width="1.1" stroke-linejoin="round"/>
<line x1="245.8" y1="497.74" x2="245.8" y2="502.27" stroke="#1b4178" stroke-width="0.8"/>
<line x1="244" y1="497.74" x2="247.6" y2="497.74" stroke="#1b4178" stroke-width="0.8"/>
<line x1="244" y1="502.27" x2="247.6" y2="502.27" stroke="#1b4178" stroke-width="0.8"/>
<circle cx="245.8" cy="500.01" r="2.25" fill="#173a6c"/>
<line x1="276.8" y1="468.05" x2="276.8" y2="473.03" stroke="#1b4178" stroke-width="0.8"/>
<line x1="275" y1="468.05" x2="278.6" y2="468.05" stroke="#1b4178" stroke-width="0.8"/>
<line x1="275" y1="473.03" x2="278.6" y2="473.03" stroke="#1b4178" stroke-width="0.8"/>
<circle cx="276.8" cy="470.54" r="2.25" fill="#173a6c"/>
<circle cx="307.8" cy="444.25" r="2.25" fill="#173a6c"/>
<text x="245.9" y="488.9" font-size="5.4" letter-spacing="0.9" text-anchor="middle" style="fill:#5a3a78;stroke:#5a3a78;stroke-width:.25px">***</text>
<text x="245.9" y="492.9" font-size="5.4" letter-spacing="0.9" text-anchor="middle" style="fill:#3f8f45;stroke:#3f8f45;stroke-width:.25px">**</text>
<text x="245.9" y="496.9" font-size="5.4" letter-spacing="0.9" text-anchor="middle" style="fill:#a83048;stroke:#a83048;stroke-width:.25px">*</text>
<text x="276.9" y="457.9" font-size="5.4" letter-spacing="0.9" text-anchor="middle" style="fill:#5a3a78;stroke:#5a3a78;stroke-width:.25px">****</text>
<text x="276.9" y="461.9" font-size="5.4" letter-spacing="0.9" text-anchor="middle" style="fill:#3f8f45;stroke:#3f8f45;stroke-width:.25px">****</text>
<text x="276.9" y="465.9" font-size="5.4" letter-spacing="0.9" text-anchor="middle" style="fill:#a83048;stroke:#a83048;stroke-width:.25px">****</text>
<text x="307.9" y="434" font-size="5.4" letter-spacing="0.9" text-anchor="middle" style="fill:#5a3a78;stroke:#5a3a78;stroke-width:.25px">****</text>
<text x="307.9" y="438" font-size="5.4" letter-spacing="0.9" text-anchor="middle" style="fill:#3f8f45;stroke:#3f8f45;stroke-width:.25px">****</text>
<text x="307.9" y="442" font-size="5.4" letter-spacing="0.9" text-anchor="middle" style="fill:#a83048;stroke:#a83048;stroke-width:.25px">****</text>
<line x1="324.3" y1="456.8" x2="335.8" y2="456.8" stroke="#1b4178" stroke-width="1.1"/>
<circle cx="330" cy="456.8" r="2.25" fill="#173a6c"/>
<text x="339.3" y="459" font-size="6.2" textLength="9.6" lengthAdjust="spacingAndGlyphs">Ctrl</text>
<line x1="324.3" y1="468.5" x2="335.8" y2="468.5" stroke="#c01231" stroke-width="1.1"/>
<polygon points="330,465.92 327.76,470.18 332.24,470.18" fill="#b30f2d"/>
<text x="339.3" y="470.7" font-size="6.2" textLength="9.6" lengthAdjust="spacingAndGlyphs">FL3</text>
<line x1="324.3" y1="480.3" x2="335.8" y2="480.3" stroke="#3aa637" stroke-width="1.1"/>
<rect x="327.93" y="478.23" width="4.14" height="4.14" fill="#36a033"/>
<text x="339.3" y="482.5" font-size="6.2" textLength="14.5" lengthAdjust="spacingAndGlyphs">αPD1</text>
<line x1="324.3" y1="492.5" x2="335.8" y2="492.5" stroke="#5e2a80" stroke-width="1.1"/>
<line x1="327.91" y1="490.41" x2="332.09" y2="494.59" stroke="#55237a" stroke-width="1"/>
<line x1="327.91" y1="494.59" x2="332.09" y2="490.41" stroke="#55237a" stroke-width="1"/>
<text x="339.3" y="494.7" font-size="6.2" textLength="9.6" lengthAdjust="spacingAndGlyphs">FL3</text>
<text x="339.3" y="501.6" font-size="6.2" textLength="18.2" lengthAdjust="spacingAndGlyphs">+αPD1</text>
<text x="358" y="463.4" font-size="6.2" textLength="16.3" lengthAdjust="spacingAndGlyphs">week7</text>
<path d="M358.3 468.5H360.8V480.1H358.3M358.3 480.6H360.8V491.8H358.3" fill="none" stroke="#1a1a1a" stroke-width="1.05"/>
<path d="M366.3 468H369.3V491.8H366.3" fill="none" stroke="#1a1a1a" stroke-width="1.05"/>
<text x="363.9" y="476.1" font-size="5.4" letter-spacing="0.9" text-anchor="middle" style="fill:#2a2a2a;stroke:#2a2a2a;stroke-width:.25px">*</text>
<text x="363.9" y="489.2" font-size="5.4" letter-spacing="0.9" text-anchor="middle" style="fill:#2a2a2a;stroke:#2a2a2a;stroke-width:.25px">*</text>
<text transform="translate(369.9 479.8) rotate(90)" font-size="5.4" letter-spacing="0.7" text-anchor="middle" style="fill:#2a2a2a;stroke:#2a2a2a;stroke-width:.25px">****</text>
<text x="390.5" y="436.9" font-size="10.3" font-weight="bold" style="fill:#000;stroke:#000;stroke-width:.25px" textLength="9" lengthAdjust="spacingAndGlyphs">H</text>
<text transform="translate(408.2 484) rotate(-90)" font-size="7.6" text-anchor="middle" textLength="64.5" lengthAdjust="spacingAndGlyphs" class="b">% of CLL cells in spleen</text>
<rect x="432" y="457.79" width="15.6" height="70.21" fill="#154a86"/>
<rect x="452.5" y="477.51" width="15.6" height="50.49" fill="#c80b2d"/>
<rect x="472.5" y="472.58" width="15.6" height="55.42" fill="#3dab39"/>
<rect x="492.5" y="493.13" width="15.6" height="34.87" fill="#632281"/>
<circle cx="433.8" cy="453.8" r="1.85" fill="#fff" stroke="#333" stroke-width="0.85"/>
<circle cx="439.5" cy="451.8" r="1.85" fill="#fff" stroke="#333" stroke-width="0.85"/>
<circle cx="445.5" cy="453.8" r="1.85" fill="#fff" stroke="#333" stroke-width="0.85"/>
<circle cx="433.8" cy="458" r="1.85" fill="#fff" stroke="#333" stroke-width="0.85"/>
<circle cx="433.8" cy="461.8" r="1.85" fill="#fff" stroke="#333" stroke-width="0.85"/>
<circle cx="439.5" cy="459.5" r="1.85" fill="#fff" stroke="#333" stroke-width="0.85"/>
<circle cx="445.5" cy="459.5" r="1.85" fill="#fff" stroke="#333" stroke-width="0.85"/>
<circle cx="460" cy="458.3" r="1.85" fill="#fff" stroke="#333" stroke-width="0.85"/>
<circle cx="454.3" cy="469.3" r="1.85" fill="#fff" stroke="#333" stroke-width="0.85"/>
<circle cx="460" cy="469" r="1.85" fill="#fff" stroke="#333" stroke-width="0.85"/>
<circle cx="466.3" cy="471.8" r="1.85" fill="#fff" stroke="#333" stroke-width="0.85"/>
<circle cx="460" cy="473.8" r="1.85" fill="#fff" stroke="#333" stroke-width="0.85"/>
<circle cx="454.3" cy="493.3" r="1.85" fill="#fff" stroke="#333" stroke-width="0.85"/>
<circle cx="460" cy="491.8" r="1.85" fill="#fff" stroke="#333" stroke-width="0.85"/>
<circle cx="466.3" cy="491.8" r="1.85" fill="#fff" stroke="#333" stroke-width="0.85"/>
<circle cx="480" cy="457.5" r="1.85" fill="#fff" stroke="#333" stroke-width="0.85"/>
<circle cx="484.3" cy="461.3" r="1.85" fill="#fff" stroke="#333" stroke-width="0.85"/>
<circle cx="476.8" cy="464.3" r="1.85" fill="#fff" stroke="#333" stroke-width="0.85"/>
<circle cx="480" cy="466.8" r="1.85" fill="#fff" stroke="#333" stroke-width="0.85"/>
<circle cx="480" cy="510.5" r="1.85" fill="#fff" stroke="#333" stroke-width="0.85"/>
<circle cx="500.8" cy="479.3" r="1.85" fill="#fff" stroke="#333" stroke-width="0.85"/>
<circle cx="500.8" cy="484.3" r="1.85" fill="#fff" stroke="#333" stroke-width="0.85"/>
<circle cx="495" cy="487.5" r="1.85" fill="#fff" stroke="#333" stroke-width="0.85"/>
<circle cx="500.8" cy="489.3" r="1.85" fill="#fff" stroke="#333" stroke-width="0.85"/>
<circle cx="495" cy="504.3" r="1.85" fill="#fff" stroke="#333" stroke-width="0.85"/>
<circle cx="500.8" cy="501.8" r="1.85" fill="#fff" stroke="#333" stroke-width="0.85"/>
<circle cx="506.8" cy="503.3" r="1.85" fill="#fff" stroke="#333" stroke-width="0.85"/>
<line x1="427.6" y1="440" x2="427.6" y2="528.6" stroke="#0c0c0c" stroke-width="1.35"/>
<rect x="426.1" y="517.6" width="3" height="2.8" fill="#fff"/>
<line x1="424.8" y1="517.5" x2="430.4" y2="517.5" stroke="#0c0c0c" stroke-width="0.8"/>
<line x1="424.8" y1="520.6" x2="430.4" y2="520.6" stroke="#0c0c0c" stroke-width="0.8"/>
<line x1="427" y1="528.15" x2="512.5" y2="528.15" stroke="#0c0c0c" stroke-width="1.25"/>
<line x1="424.2" y1="528" x2="427.6" y2="528" stroke="#0c0c0c" stroke-width="1"/>
<text x="422.1" y="530.45" font-size="6.8" text-anchor="end">0</text>
<line x1="424.2" y1="508.75" x2="427.6" y2="508.75" stroke="#0c0c0c" stroke-width="1"/>
<text x="422.1" y="511.2" font-size="6.8" text-anchor="end">50</text>
<line x1="424.2" y1="492.31" x2="427.6" y2="492.31" stroke="#0c0c0c" stroke-width="1"/>
<text x="422.1" y="494.76" font-size="6.8" text-anchor="end">60</text>
<line x1="424.2" y1="475.87" x2="427.6" y2="475.87" stroke="#0c0c0c" stroke-width="1"/>
<text x="422.1" y="478.32" font-size="6.8" text-anchor="end">70</text>
<line x1="424.2" y1="459.43" x2="427.6" y2="459.43" stroke="#0c0c0c" stroke-width="1"/>
<text x="422.1" y="461.88" font-size="6.8" text-anchor="end">80</text>
<line x1="424.2" y1="442.99" x2="427.6" y2="442.99" stroke="#0c0c0c" stroke-width="1"/>
<text x="422.1" y="445.44" font-size="6.8" text-anchor="end">90</text>
<line x1="439.8" y1="528" x2="439.8" y2="530.7" stroke="#0c0c0c" stroke-width="1"/>
<line x1="460.3" y1="528" x2="460.3" y2="530.7" stroke="#0c0c0c" stroke-width="1"/>
<line x1="480.3" y1="528" x2="480.3" y2="530.7" stroke="#0c0c0c" stroke-width="1"/>
<line x1="500.4" y1="528" x2="500.4" y2="530.7" stroke="#0c0c0c" stroke-width="1"/>
<text x="439.5" y="539.7" font-size="6.6" text-anchor="middle" textLength="10.5" lengthAdjust="spacingAndGlyphs">Ctrl</text>
<text x="460" y="539.7" font-size="6.6" text-anchor="middle" textLength="10.3" lengthAdjust="spacingAndGlyphs">FL3</text>
<text x="479.8" y="539.7" font-size="6.6" text-anchor="middle" textLength="16" lengthAdjust="spacingAndGlyphs">αPD1</text>
<text x="500.8" y="539.7" font-size="6.6" text-anchor="middle" textLength="10.3" lengthAdjust="spacingAndGlyphs">FL3</text>
<text x="500.6" y="547.6" font-size="6.6" text-anchor="middle" textLength="19.8" lengthAdjust="spacingAndGlyphs">+αPD1</text>
<line x1="439.5" y1="431.5" x2="500.8" y2="431.5" stroke="#2e2e2e" stroke-width="1.2"/>
<text x="470.25" y="431.1" font-size="5.4" letter-spacing="0.9" text-anchor="middle" style="fill:#2a2a2a;stroke:#2a2a2a;stroke-width:.25px">****</text>
<line x1="439.5" y1="438.5" x2="479.5" y2="438.5" stroke="#2e2e2e" stroke-width="1.2"/>
<text x="459.6" y="437.9" font-size="5.4" letter-spacing="0.9" text-anchor="middle" style="fill:#2a2a2a;stroke:#2a2a2a;stroke-width:.25px">*</text>
<line x1="439.5" y1="445.5" x2="460" y2="445.5" stroke="#2e2e2e" stroke-width="1.2"/>
<text x="449.85" y="445.4" font-size="5.4" letter-spacing="0.9" text-anchor="middle" style="fill:#2a2a2a;stroke:#2a2a2a;stroke-width:.25px">**</text>
<line x1="462.5" y1="445.5" x2="500.8" y2="445.5" stroke="#2e2e2e" stroke-width="1.2"/>
<text x="481.75" y="445.4" font-size="5.4" letter-spacing="0.9" text-anchor="middle" style="fill:#2a2a2a;stroke:#2a2a2a;stroke-width:.25px">*</text>
<line x1="480.5" y1="453.5" x2="500.8" y2="453.5" stroke="#2e2e2e" stroke-width="1.2"/>
<text x="490.75" y="452.9" font-size="5.4" letter-spacing="0.9" text-anchor="middle" style="fill:#2a2a2a;stroke:#2a2a2a;stroke-width:.25px">**</text>
</g>
</svg>
<div class="frame"></div>
</body>
</html>
